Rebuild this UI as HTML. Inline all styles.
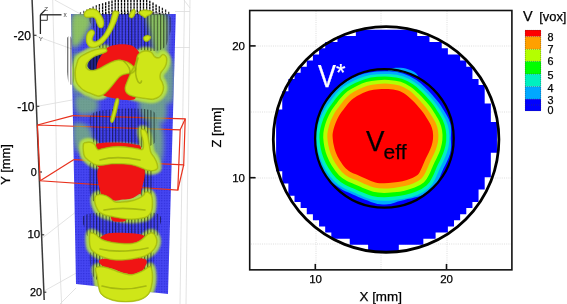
<!DOCTYPE html>
<html><head><meta charset="utf-8"><style>
html,body{margin:0;padding:0;background:#fff;}
body{width:567px;height:304px;position:relative;overflow:hidden;font-family:"Liberation Sans",sans-serif;}
.t{position:absolute;line-height:1;white-space:nowrap;-webkit-text-stroke:0.25px currentColor;}
#tx{position:absolute;left:0;top:0;width:567px;height:304px;will-change:transform;}
</style></head><body>
<svg width="567" height="304" style="position:absolute;left:0;top:0"><defs><pattern id="vf" width="3.2" height="3" patternUnits="userSpaceOnUse"><rect x="0" y="0" width="1.1" height="3" fill="#000"/></pattern><pattern id="dots" width="2.6" height="2.6" patternUnits="userSpaceOnUse"><rect width="2.6" height="2.6" fill="#4646f2"/><rect x="0" y="0" width="1.2" height="1.2" fill="#2e2ed8"/></pattern><clipPath id="pl"><polygon points="71,14 175.8,14 168,294 76,284"/></clipPath><filter id="bl" x="-20%" y="-20%" width="140%" height="140%"><feGaussianBlur stdDeviation="2.5"/></filter><filter id="bl2" x="-20%" y="-20%" width="140%" height="140%"><feGaussianBlur stdDeviation="1.3"/></filter><filter id="bl1" x="-20%" y="-20%" width="140%" height="140%"><feGaussianBlur stdDeviation="0.6"/></filter><radialGradient id="yg" cx="45%" cy="40%" r="70%"><stop offset="0" stop-color="#dcf020"/><stop offset="0.7" stop-color="#cbe514"/><stop offset="1" stop-color="#a8c010"/></radialGradient></defs><g stroke="#dcdcdc" stroke-width="0.8" fill="none"><polyline points="52.7,0 56,130 57,200 61.6,304"/><line x1="54.7" y1="0" x2="80" y2="13.8"/><line x1="36" y1="36" x2="72" y2="49"/><line x1="39" y1="106" x2="72" y2="100"/><line x1="42.8" y1="237.7" x2="75" y2="212.6"/><line x1="44.5" y1="290.8" x2="76" y2="273.2"/><line x1="184.5" y1="0" x2="180" y2="304"/><line x1="190" y1="0" x2="186" y2="304"/><line x1="184" y1="0" x2="190" y2="8"/><line x1="175" y1="11.5" x2="190" y2="11.5"/><line x1="175" y1="47.5" x2="190" y2="47.5"/><line x1="60" y1="304" x2="76" y2="288"/></g><line x1="32.1" y1="0" x2="44.2" y2="300" stroke="#3a3a3a" stroke-width="1.5"/><g stroke="#3a3a3a" stroke-width="1.2"><line x1="33.5" y1="35.3" x2="36.5" y2="35.3"/><line x1="36.5" y1="106.3" x2="39.3" y2="106.3"/><line x1="39.2" y1="172" x2="42" y2="172"/><line x1="41.5" y1="234.8" x2="44.2" y2="234.8"/><line x1="43.8" y1="292.2" x2="46.3" y2="292.2"/></g><polygon points="71,14 175.8,14 168,294 76,284" fill="url(#dots)"/><g stroke="#e8301c" stroke-width="1.2" fill="none"><polyline points="72.9,115.7 185.2,118.9 183.7,164.9 74,159.6"/><polyline points="37.4,125 180.2,129.8 177.8,190.1 40.2,180.8 37.4,125"/><line x1="37.4" y1="125" x2="72.9" y2="115.7"/><line x1="180.2" y1="129.8" x2="185.2" y2="118.9"/><line x1="177.8" y1="190.1" x2="183.7" y2="164.9"/><line x1="40.2" y1="180.8" x2="74" y2="159.6"/></g><g clip-path="url(#pl)"><g filter="url(#bl)" fill="#86d060" opacity="0.65"><path d="M72.0 56.0C73.2 50.0 78.7 50.7 80.0 56.0C81.3 61.3 81.2 82.0 80.0 88.0C78.8 94.0 74.3 97.3 73.0 92.0C71.7 86.7 70.8 62.0 72.0 56.0Z"/><path d="M162.0 62.0C163.8 56.0 171.2 55.7 173.0 62.0C174.8 68.3 174.8 94.0 173.0 100.0C171.2 106.0 163.8 104.3 162.0 98.0C160.2 91.7 160.2 68.0 162.0 62.0Z"/><path d="M76.0 96.0C79.0 93.3 92.7 95.3 96.0 98.0C99.3 100.7 99.0 109.3 96.0 112.0C93.0 114.7 81.3 116.7 78.0 114.0C74.7 111.3 73.0 98.7 76.0 96.0Z"/><path d="M140.0 98.0C143.3 94.7 160.0 96.0 164.0 100.0C168.0 104.0 167.3 118.7 164.0 122.0C160.7 125.3 148.0 124.0 144.0 120.0C140.0 116.0 136.7 101.3 140.0 98.0Z"/><path d="M74.0 124.0C76.3 120.3 87.0 123.7 90.0 128.0C93.0 132.3 94.3 146.3 92.0 150.0C89.7 153.7 79.0 154.3 76.0 150.0C73.0 145.7 71.7 127.7 74.0 124.0Z"/><path d="M148.0 126.0C150.0 120.7 159.7 122.3 162.0 128.0C164.3 133.7 164.0 154.7 162.0 160.0C160.0 165.3 152.3 165.7 150.0 160.0C147.7 154.3 146.0 131.3 148.0 126.0Z"/></g><g filter="url(#bl)" fill="#9ee040" opacity="0.8"><path d="M72.0 15.0C74.7 9.8 84.8 13.5 88.0 15.0C91.2 16.5 91.3 20.8 91.0 24.0C90.7 27.2 87.8 30.7 86.0 34.0C84.2 37.3 82.3 42.0 80.0 44.0C77.7 46.0 73.3 50.8 72.0 46.0C70.7 41.2 69.3 20.2 72.0 15.0Z"/><path d="M147.0 14.0C149.7 10.7 162.5 9.7 166.0 14.0C169.5 18.3 168.2 32.0 168.0 40.0C167.8 48.0 167.0 59.0 165.0 62.0C163.0 65.0 158.5 62.7 156.0 58.0C153.5 53.3 151.5 41.3 150.0 34.0C148.5 26.7 144.3 17.3 147.0 14.0Z"/></g><g filter="url(#bl2)" fill="none" stroke="#bce83c" stroke-width="7.5" opacity="0.9"><path d="M74.9 71.6C75.0 68.8 75.6 67.3 76.2 65.0C76.9 62.7 77.3 59.9 78.8 58.0C80.2 56.1 82.3 55.2 85.0 53.8C87.7 52.3 91.7 50.4 95.0 49.5C98.3 48.6 103.0 48.1 105.0 48.2C107.0 48.4 107.0 49.8 107.2 50.5C107.4 51.2 107.2 51.5 106.0 52.2C104.8 52.9 101.9 53.8 100.0 54.5C98.1 55.2 96.2 55.6 94.5 56.6C92.8 57.6 90.9 59.0 89.5 60.5C88.1 62.0 86.5 64.0 86.3 65.5C86.0 67.0 87.0 68.4 88.0 69.2C89.0 70.0 90.8 70.3 92.5 70.2C94.2 70.1 96.2 69.6 98.5 68.6C100.8 67.6 104.2 65.4 106.5 64.2C108.8 63.0 110.4 62.1 112.4 61.4C114.4 60.7 116.4 59.9 118.4 59.8C120.4 59.7 122.5 60.3 124.3 60.8C126.1 61.3 127.7 61.8 129.2 62.7C130.7 63.6 132.4 64.9 133.5 66.0C134.6 67.1 135.7 68.4 135.5 69.5C135.3 70.6 133.6 71.8 132.5 72.5C131.4 73.2 130.6 73.2 129.2 73.6C127.8 73.9 125.8 74.1 124.3 74.6C122.8 75.1 121.4 75.7 120.3 76.5C119.2 77.3 118.6 78.2 117.4 79.5C116.2 80.8 115.1 82.4 113.4 84.4C111.8 86.4 109.3 89.5 107.5 91.3C105.7 93.1 104.2 94.5 102.6 95.3C100.9 96.1 99.8 96.6 97.6 96.3C95.4 96.0 91.8 94.1 89.7 93.3C87.6 92.5 86.4 92.3 84.8 91.3C83.2 90.3 81.4 89.0 79.9 87.4C78.4 85.8 76.7 84.1 75.9 81.5C75.1 78.9 74.8 74.3 74.9 71.6Z"/><path d="M137.5 55.0C138.4 53.4 140.2 52.2 141.7 51.5C143.2 50.8 144.9 50.5 146.5 50.6C148.1 50.7 150.1 51.0 151.5 52.0C152.9 53.0 153.8 55.6 155.0 56.5C156.2 57.4 157.8 57.8 159.0 57.5C160.2 57.2 161.0 54.9 162.0 54.5C163.0 54.1 164.2 54.3 165.0 55.0C165.8 55.7 166.8 57.0 167.0 58.5C167.2 60.0 166.9 62.3 166.5 64.0C166.1 65.7 165.3 67.0 164.4 68.5C163.5 70.0 161.7 71.4 161.0 73.0C160.3 74.6 160.2 76.5 160.4 78.0C160.6 79.5 161.8 80.3 162.4 82.0C163.0 83.7 163.9 86.0 163.8 88.0C163.7 90.0 162.9 92.4 162.0 94.0C161.1 95.6 160.1 96.6 158.5 97.5C156.9 98.4 154.7 99.4 152.5 99.6C150.3 99.8 148.1 99.1 145.6 98.8C143.1 98.5 140.3 98.1 137.7 97.6C135.1 97.0 131.8 96.4 129.8 95.5C127.8 94.6 126.7 93.6 125.9 92.3C125.1 91.0 124.7 89.2 124.9 87.4C125.1 85.6 126.2 83.3 126.9 81.5C127.6 79.7 128.2 78.1 128.9 76.5C129.6 74.9 130.2 73.6 131.0 72.0C131.8 70.4 133.2 68.8 134.0 67.0C134.8 65.2 135.4 63.0 136.0 61.0C136.6 59.0 136.6 56.6 137.5 55.0Z"/><path d="M83.0 144.8C83.2 143.5 83.2 143.1 84.4 142.6C85.6 142.1 88.7 141.7 90.4 141.9C92.1 142.2 93.6 142.9 94.8 144.1C96.0 145.3 96.6 148.6 97.8 149.3C99.0 150.0 100.2 148.9 102.2 148.5C104.2 148.1 107.1 147.4 109.6 147.0C112.1 146.6 114.5 146.4 117.0 146.3C119.5 146.2 121.9 146.4 124.4 146.6C126.9 146.8 129.7 147.2 131.9 147.5C134.1 147.8 136.0 148.2 137.8 148.5C139.6 148.8 141.6 150.1 142.5 149.0C143.4 147.9 143.2 144.5 143.0 142.0C142.8 139.5 141.3 136.1 141.0 134.0C140.7 131.9 140.4 130.2 141.0 129.5C141.6 128.8 143.4 128.8 144.5 129.5C145.6 130.2 146.7 131.4 147.5 134.0C148.3 136.6 149.0 141.8 149.6 144.8C150.2 147.8 150.3 150.2 151.1 152.2C151.8 154.2 153.1 155.0 154.1 156.7C155.1 158.4 156.4 160.6 157.0 162.6C157.6 164.6 158.3 167.2 157.8 168.5C157.3 169.8 155.7 170.3 154.1 170.7C152.5 171.1 150.1 171.1 148.1 170.7C146.1 170.3 144.2 169.2 142.2 168.5C140.2 167.8 138.3 166.9 136.3 166.3C134.3 165.7 132.9 165.2 130.4 164.8C127.9 164.4 124.5 164.2 121.5 164.1C118.5 164.0 115.1 164.0 112.6 164.1C110.1 164.2 108.7 164.6 106.7 164.8C104.7 165.1 102.7 165.6 100.7 165.6C98.7 165.6 96.8 165.6 94.8 164.8C92.8 164.1 90.6 162.4 88.9 161.1C87.2 159.8 85.4 158.4 84.4 156.7C83.4 155.0 83.2 152.7 83.0 150.7C82.8 148.7 82.8 146.2 83.0 144.8Z"/><path d="M95.0 196.4C95.8 195.2 97.5 194.4 99.3 194.2C101.1 194.0 103.8 194.6 105.7 195.3C107.7 196.0 109.4 197.4 111.0 198.5C112.6 199.6 113.3 201.2 115.3 201.7C117.3 202.2 120.1 201.9 122.8 201.7C125.5 201.5 128.8 201.1 131.3 200.6C133.8 200.1 135.8 199.4 137.8 198.5C139.8 197.6 141.9 196.4 143.1 195.3C144.3 194.2 144.3 192.6 145.2 192.1C146.1 191.6 147.3 191.6 148.4 192.1C149.5 192.6 151.0 193.5 151.7 195.3C152.4 197.1 152.7 200.1 152.7 202.8C152.7 205.5 152.6 209.0 151.7 211.3C150.8 213.6 149.4 215.4 147.4 216.7C145.4 217.9 142.6 218.3 139.9 218.8C137.2 219.3 134.2 219.5 131.3 219.5C128.5 219.5 125.7 219.2 122.8 218.8C119.9 218.4 117.0 217.8 114.2 217.3C111.4 216.8 108.2 216.4 105.7 215.6C103.2 214.8 100.9 213.8 99.3 212.4C97.7 211.0 96.8 208.9 96.0 207.1C95.2 205.3 94.7 203.5 94.5 201.7C94.3 199.9 94.2 197.7 95.0 196.4Z"/><path d="M90.4 232.8C91.5 232.2 93.6 233.0 95.6 234.1C97.5 235.2 99.5 238.0 102.1 239.3C104.7 240.6 108.0 241.2 111.2 241.9C114.5 242.6 118.1 243.0 121.6 243.2C125.1 243.4 129.0 243.6 132.0 243.2C135.0 242.8 137.2 242.1 139.8 240.6C142.4 239.1 145.4 235.4 147.6 234.1C149.8 232.8 151.3 232.2 152.8 232.8C154.3 233.5 156.0 236.1 156.7 238.0C157.3 239.9 157.3 242.3 156.7 244.5C156.0 246.7 154.8 249.1 152.8 251.0C150.9 252.9 148.0 254.9 145.0 256.2C142.0 257.5 137.8 258.1 134.6 258.8C131.3 259.5 129.0 259.9 125.5 260.1C122.0 260.3 117.5 260.5 113.8 260.1C110.1 259.7 106.4 258.6 103.4 257.5C100.4 256.4 97.8 255.1 95.6 253.6C93.4 252.1 91.5 251.0 90.4 248.4C89.3 245.8 89.1 240.6 89.1 238.0C89.1 235.4 89.3 233.5 90.4 232.8Z"/><path d="M95.6 267.9C96.7 266.2 100.4 266.3 103.4 266.6C106.4 266.9 111.2 268.8 113.8 269.7C116.4 270.6 117.0 271.1 119.0 271.8C121.0 272.5 123.3 273.2 125.5 273.6C127.7 274.0 129.4 274.8 132.0 274.4C134.6 274.0 138.3 272.6 141.1 271.3C143.9 270.0 147.2 267.2 148.9 266.6C150.6 266.0 150.8 266.2 151.5 267.9C152.2 269.6 152.8 273.8 152.8 277.0C152.8 280.2 152.2 284.6 151.5 287.4C150.8 290.2 150.4 291.9 148.9 293.9C147.4 295.8 145.2 297.8 142.4 299.1C139.6 300.4 135.9 301.3 132.0 301.7C128.1 302.1 122.9 302.1 119.0 301.7C115.1 301.3 111.6 300.4 108.6 299.1C105.6 297.8 102.5 296.1 100.8 293.9C99.1 291.7 98.8 288.9 98.2 286.1C97.6 283.3 97.3 280.0 96.9 277.0C96.5 274.0 94.5 269.6 95.6 267.9Z"/></g></g><g fill="url(#vf)" opacity="0.55"><path d="M94.0 14.0C106.0 11.3 153.7 9.7 166.0 14.0C178.3 18.3 169.0 34.0 168.0 40.0C167.0 46.0 164.7 48.3 160.0 50.0C155.3 51.7 146.7 50.8 140.0 50.0C133.3 49.2 126.7 45.3 120.0 45.0C113.3 44.7 104.3 50.5 100.0 48.0C95.7 45.5 95.0 35.7 94.0 30.0C93.0 24.3 82.0 16.7 94.0 14.0Z"/><path d="M95.0 112.0C104.7 108.3 139.8 107.3 150.0 110.0C160.2 112.7 156.0 122.0 156.0 128.0C156.0 134.0 159.3 143.0 150.0 146.0C140.7 149.0 109.7 148.3 100.0 146.0C90.3 143.7 92.8 137.7 92.0 132.0C91.2 126.3 85.3 115.7 95.0 112.0Z"/><path d="M88.0 214.0C99.5 211.2 143.3 210.3 155.0 213.0C166.7 215.7 158.8 225.8 158.0 230.0C157.2 234.2 160.5 236.7 150.0 238.0C139.5 239.3 105.7 239.3 95.0 238.0C84.3 236.7 87.2 234.0 86.0 230.0C84.8 226.0 76.5 216.8 88.0 214.0Z"/><path d="M89.0 165.0C90.7 159.5 99.0 159.5 101.0 165.0C103.0 170.5 102.7 192.5 101.0 198.0C99.3 203.5 93.0 203.5 91.0 198.0C89.0 192.5 87.3 170.5 89.0 165.0Z"/><path d="M140.0 168.0C141.8 163.8 150.0 165.5 152.0 170.0C154.0 174.5 153.8 190.8 152.0 195.0C150.2 199.2 143.0 199.5 141.0 195.0C139.0 190.5 138.2 172.2 140.0 168.0Z"/><path d="M90.0 253.0C91.5 249.7 100.0 251.8 102.0 256.0C104.0 260.2 103.5 274.7 102.0 278.0C100.5 281.3 95.0 280.2 93.0 276.0C91.0 271.8 88.5 256.3 90.0 253.0Z"/><path d="M139.0 255.0C141.0 252.0 150.8 249.5 153.0 252.0C155.2 254.5 154.0 267.0 152.0 270.0C150.0 273.0 143.2 272.5 141.0 270.0C138.8 267.5 137.0 258.0 139.0 255.0Z"/></g><g stroke-width="1.3" stroke-dasharray="2.6 0.5"><line x1="80.5" y1="12.1" x2="80.5" y2="14.5" stroke="rgb(110,110,110)"/><line x1="83.7" y1="10.8" x2="83.7" y2="14.5" stroke="rgb(101,101,101)"/><line x1="86.8" y1="9.4" x2="86.8" y2="14.5" stroke="rgb(85,85,85)"/><line x1="90.0" y1="8.0" x2="90.0" y2="14.5" stroke="rgb(69,69,69)"/><line x1="93.1" y1="6.5" x2="93.1" y2="14.5" stroke="rgb(54,54,54)"/><line x1="96.3" y1="5.2" x2="96.3" y2="14.5" stroke="rgb(38,38,38)"/><line x1="99.4" y1="4.1" x2="99.4" y2="14.5" stroke="rgb(22,22,22)"/><line x1="102.6" y1="3.2" x2="102.6" y2="14.5" stroke="rgb(6,6,6)"/><line x1="105.7" y1="2.3" x2="105.7" y2="14.5" stroke="rgb(0,0,0)"/><line x1="108.9" y1="1.3" x2="108.9" y2="14.5" stroke="rgb(0,0,0)"/><line x1="112.0" y1="0.6" x2="112.0" y2="14.5" stroke="rgb(0,0,0)"/><line x1="115.2" y1="0.0" x2="115.2" y2="14.5" stroke="rgb(0,0,0)"/><line x1="118.3" y1="0.0" x2="118.3" y2="14.5" stroke="rgb(0,0,0)"/><line x1="121.5" y1="0.0" x2="121.5" y2="14.5" stroke="rgb(0,0,0)"/><line x1="124.6" y1="0.0" x2="124.6" y2="14.5" stroke="rgb(0,0,0)"/><line x1="127.8" y1="0.0" x2="127.8" y2="14.5" stroke="rgb(0,0,0)"/><line x1="130.9" y1="0.0" x2="130.9" y2="14.5" stroke="rgb(0,0,0)"/><line x1="134.1" y1="0.0" x2="134.1" y2="14.5" stroke="rgb(0,0,0)"/><line x1="137.2" y1="0.0" x2="137.2" y2="14.5" stroke="rgb(0,0,0)"/><line x1="140.4" y1="0.0" x2="140.4" y2="14.5" stroke="rgb(0,0,0)"/><line x1="143.5" y1="0.0" x2="143.5" y2="14.5" stroke="rgb(0,0,0)"/><line x1="146.7" y1="0.0" x2="146.7" y2="14.5" stroke="rgb(0,0,0)"/><line x1="149.8" y1="0.7" x2="149.8" y2="14.5" stroke="rgb(0,0,0)"/><line x1="153.0" y1="2.5" x2="153.0" y2="14.5" stroke="rgb(0,0,0)"/><line x1="156.1" y1="4.5" x2="156.1" y2="14.5" stroke="rgb(0,0,0)"/><line x1="159.3" y1="6.2" x2="159.3" y2="14.5" stroke="rgb(15,15,15)"/><line x1="162.4" y1="7.7" x2="162.4" y2="14.5" stroke="rgb(31,31,31)"/><line x1="165.6" y1="9.5" x2="165.6" y2="14.5" stroke="rgb(47,47,47)"/><line x1="168.7" y1="11.8" x2="168.7" y2="14.5" stroke="rgb(63,63,63)"/></g><g fill="url(#vf)" opacity="0.6"><path d="M66.0 42.0C66.7 35.3 70.7 33.7 72.0 40.0C73.3 46.3 74.7 73.3 74.0 80.0C73.3 86.7 69.3 86.3 68.0 80.0C66.7 73.7 65.3 48.7 66.0 42.0Z"/></g><path d="M87.5 65 C88 60 93 56.5 100 54 C104 53 108 53 109 55.5 L104 66 C100 69 96 70.5 91 70 C88.5 69 87.3 67.5 87.5 65Z" fill="#23238a"/><path d="M87.5 65 C88 60 93 56.5 100 54 C104 53 108 53 109 55.5 L104 66 C100 69 96 70.5 91 70 C88.5 69 87.3 67.5 87.5 65Z" fill="url(#vf)" opacity="0.6"/><g fill="#f01414"><path d="M107.5 47.5C110.0 46.0 113.8 44.9 117.5 44.5C121.2 44.1 126.7 44.1 130.0 45.0C133.3 45.9 135.6 47.9 137.5 50.0C139.4 52.1 140.8 54.6 141.2 57.5C141.7 60.4 140.6 64.2 140.0 67.5C139.4 70.8 138.1 73.8 137.5 77.5C136.9 81.2 136.7 86.5 136.2 90.0C135.8 93.5 136.9 97.1 135.0 98.8C133.1 100.4 129.2 100.2 125.0 100.0C120.8 99.8 114.2 98.5 110.0 97.5C105.8 96.5 102.3 95.4 100.0 93.8C97.7 92.1 96.9 91.0 96.2 87.5C95.6 84.0 96.0 76.7 96.2 72.5C96.5 68.3 96.5 65.6 97.5 62.5C98.5 59.4 100.8 56.2 102.5 53.8C104.2 51.2 105.0 49.0 107.5 47.5Z"/><path d="M96.3 144.1C96.8 143.0 97.1 143.6 99.3 143.3C101.5 143.1 105.4 142.7 109.6 142.6C113.8 142.5 120.0 142.6 124.4 143.0C128.9 143.4 133.5 144.0 136.3 144.8C139.1 145.6 140.2 144.1 141.0 148.0C141.8 151.9 147.8 164.7 141.0 168.0C134.2 171.3 107.5 171.0 100.0 168.0C92.5 165.0 96.6 154.0 96.0 150.0C95.4 146.0 95.8 145.2 96.3 144.1Z"/><path d="M100.3 166.0C107.1 161.1 135.2 161.7 142.0 166.0C148.8 170.3 141.5 187.4 141.0 192.1C140.5 196.8 140.4 193.1 138.8 194.2C137.2 195.3 134.0 197.6 131.3 198.5C128.6 199.4 125.7 199.2 122.8 199.6C119.9 199.9 116.7 201.0 114.2 200.6C111.7 200.2 109.9 198.3 107.8 197.4C105.7 196.5 102.7 200.5 101.4 195.3C100.2 190.1 93.5 170.9 100.3 166.0Z"/><path d="M112.0 214.0C114.2 212.8 123.8 212.8 126.0 214.0C128.2 215.2 127.2 219.8 125.0 221.0C122.8 222.2 115.2 222.2 113.0 221.0C110.8 219.8 109.8 215.2 112.0 214.0Z"/><path d="M99.5 240.0C98.8 238.3 102.8 235.3 106.0 234.1C109.2 232.9 114.7 232.9 119.0 232.8C123.3 232.7 127.9 232.9 132.0 233.3C136.1 233.7 140.9 234.3 143.7 235.4C146.5 236.5 149.5 238.6 148.9 240.0C148.3 241.4 146.5 243.3 140.0 244.0C133.5 244.7 116.8 244.7 110.0 244.0C103.2 243.3 100.2 241.7 99.5 240.0Z"/><path d="M102.0 259.0C108.7 257.7 136.8 257.1 143.7 258.8C150.6 260.5 144.3 267.0 143.7 269.2C143.0 271.4 141.8 270.9 139.8 271.8C137.9 272.7 134.6 274.2 132.0 274.4C129.4 274.6 126.4 273.6 124.2 273.1C122.0 272.6 120.7 272.0 119.0 271.3C117.3 270.6 116.4 270.0 113.8 269.2C111.2 268.4 105.4 268.3 103.4 266.6C101.4 264.9 95.3 260.3 102.0 259.0Z"/></g><clipPath id="yc"><path d="M84.0 13.5C84.3 12.4 85.1 11.0 86.5 10.2C87.9 9.4 90.8 8.8 92.5 8.8C94.2 8.8 95.7 9.1 97.0 10.0C98.3 10.9 99.5 12.6 100.5 14.0C101.5 15.4 102.4 16.9 103.0 18.5C103.6 20.1 104.1 22.0 104.0 23.5C103.9 25.0 103.3 26.8 102.5 27.5C101.7 28.2 100.0 28.2 99.0 27.5C98.0 26.8 97.4 24.8 96.8 23.5C96.2 22.2 96.0 20.5 95.5 19.5C95.0 18.5 94.4 17.8 93.5 17.5C92.6 17.2 91.2 17.5 90.0 17.5C88.8 17.5 87.4 17.7 86.5 17.5C85.6 17.3 84.9 17.2 84.5 16.5C84.1 15.8 83.7 14.6 84.0 13.5Z"/><path d="M113.6 11.0C114.6 10.6 117.6 11.0 118.4 11.6C119.2 12.2 118.8 13.2 118.6 14.3C118.4 15.5 117.9 16.9 117.4 18.5C116.9 20.1 116.3 21.7 115.4 23.8C114.5 25.9 113.0 29.0 111.8 31.2C110.6 33.4 109.5 35.0 108.3 36.8C107.0 38.5 105.6 40.3 104.3 41.7C103.0 43.1 101.6 44.3 100.2 45.2C98.8 46.1 97.3 46.9 95.9 47.3C94.5 47.7 93.3 48.0 92.0 47.8C90.7 47.6 89.3 47.0 88.3 45.9C87.3 44.8 86.5 42.9 86.2 41.4C85.9 39.9 86.0 38.2 86.2 36.8C86.4 35.3 86.8 33.9 87.6 32.7C88.4 31.5 90.0 30.0 91.1 29.7C92.1 29.4 93.3 30.2 93.9 30.8C94.5 31.4 94.6 32.5 94.5 33.5C94.4 34.5 93.4 35.8 93.1 36.8C92.8 37.8 92.3 39.0 92.5 39.8C92.7 40.6 93.5 41.3 94.2 41.5C95.0 41.7 96.0 41.4 97.0 40.9C98.0 40.4 98.9 39.5 100.1 38.4C101.2 37.3 102.7 36.0 103.9 34.4C105.1 32.8 106.1 30.7 107.1 28.8C108.1 26.9 109.1 24.6 109.8 22.9C110.5 21.1 110.7 19.8 111.1 18.3C111.5 16.8 112.0 15.1 112.4 13.9C112.8 12.7 112.6 11.4 113.6 11.0Z"/><path d="M129.0 16.3C128.8 15.2 130.0 12.9 130.8 11.7C131.6 10.5 132.8 9.2 133.6 9.0C134.4 8.8 135.2 9.7 135.4 10.8C135.6 11.9 135.1 14.2 134.5 15.4C133.9 16.6 132.6 18.0 131.7 18.1C130.8 18.2 129.2 17.4 129.0 16.3Z"/><path d="M139.0 11.7C139.6 10.9 141.7 10.1 143.5 9.9C145.3 9.7 148.3 10.2 149.8 10.5C151.3 10.8 152.3 11.0 152.5 11.7C152.7 12.4 151.6 13.7 150.7 14.5C149.8 15.3 148.0 15.7 147.1 16.3C146.2 16.9 146.1 18.1 145.3 18.1C144.6 18.1 143.5 16.9 142.6 16.3C141.7 15.7 140.5 15.3 139.9 14.5C139.3 13.7 138.4 12.5 139.0 11.7Z"/><path d="M143.5 37.0C144.0 36.2 145.8 35.3 147.0 35.2C148.2 35.1 150.3 35.7 150.7 36.5C151.1 37.3 150.3 39.1 149.5 40.0C148.7 40.9 146.9 41.6 146.0 41.6C145.1 41.6 144.2 40.8 143.8 40.0C143.4 39.2 143.0 37.8 143.5 37.0Z"/><path d="M74.9 71.6C75.0 68.8 75.6 67.3 76.2 65.0C76.9 62.7 77.3 59.9 78.8 58.0C80.2 56.1 82.3 55.2 85.0 53.8C87.7 52.3 91.7 50.4 95.0 49.5C98.3 48.6 103.0 48.1 105.0 48.2C107.0 48.4 107.0 49.8 107.2 50.5C107.4 51.2 107.2 51.5 106.0 52.2C104.8 52.9 101.9 53.8 100.0 54.5C98.1 55.2 96.2 55.6 94.5 56.6C92.8 57.6 90.9 59.0 89.5 60.5C88.1 62.0 86.5 64.0 86.3 65.5C86.0 67.0 87.0 68.4 88.0 69.2C89.0 70.0 90.8 70.3 92.5 70.2C94.2 70.1 96.2 69.6 98.5 68.6C100.8 67.6 104.2 65.4 106.5 64.2C108.8 63.0 110.4 62.1 112.4 61.4C114.4 60.7 116.4 59.9 118.4 59.8C120.4 59.7 122.5 60.3 124.3 60.8C126.1 61.3 127.7 61.8 129.2 62.7C130.7 63.6 132.4 64.9 133.5 66.0C134.6 67.1 135.7 68.4 135.5 69.5C135.3 70.6 133.6 71.8 132.5 72.5C131.4 73.2 130.6 73.2 129.2 73.6C127.8 73.9 125.8 74.1 124.3 74.6C122.8 75.1 121.4 75.7 120.3 76.5C119.2 77.3 118.6 78.2 117.4 79.5C116.2 80.8 115.1 82.4 113.4 84.4C111.8 86.4 109.3 89.5 107.5 91.3C105.7 93.1 104.2 94.5 102.6 95.3C100.9 96.1 99.8 96.6 97.6 96.3C95.4 96.0 91.8 94.1 89.7 93.3C87.6 92.5 86.4 92.3 84.8 91.3C83.2 90.3 81.4 89.0 79.9 87.4C78.4 85.8 76.7 84.1 75.9 81.5C75.1 78.9 74.8 74.3 74.9 71.6Z"/><path d="M137.5 55.0C138.4 53.4 140.2 52.2 141.7 51.5C143.2 50.8 144.9 50.5 146.5 50.6C148.1 50.7 150.1 51.0 151.5 52.0C152.9 53.0 153.8 55.6 155.0 56.5C156.2 57.4 157.8 57.8 159.0 57.5C160.2 57.2 161.0 54.9 162.0 54.5C163.0 54.1 164.2 54.3 165.0 55.0C165.8 55.7 166.8 57.0 167.0 58.5C167.2 60.0 166.9 62.3 166.5 64.0C166.1 65.7 165.3 67.0 164.4 68.5C163.5 70.0 161.7 71.4 161.0 73.0C160.3 74.6 160.2 76.5 160.4 78.0C160.6 79.5 161.8 80.3 162.4 82.0C163.0 83.7 163.9 86.0 163.8 88.0C163.7 90.0 162.9 92.4 162.0 94.0C161.1 95.6 160.1 96.6 158.5 97.5C156.9 98.4 154.7 99.4 152.5 99.6C150.3 99.8 148.1 99.1 145.6 98.8C143.1 98.5 140.3 98.1 137.7 97.6C135.1 97.0 131.8 96.4 129.8 95.5C127.8 94.6 126.7 93.6 125.9 92.3C125.1 91.0 124.7 89.2 124.9 87.4C125.1 85.6 126.2 83.3 126.9 81.5C127.6 79.7 128.2 78.1 128.9 76.5C129.6 74.9 130.2 73.6 131.0 72.0C131.8 70.4 133.2 68.8 134.0 67.0C134.8 65.2 135.4 63.0 136.0 61.0C136.6 59.0 136.6 56.6 137.5 55.0Z"/><path d="M116.0 99.0C117.0 97.3 118.8 98.2 119.0 100.0C119.2 101.8 117.9 106.4 117.0 110.0C116.1 113.6 114.6 119.7 113.5 121.5C112.4 123.3 110.6 122.9 110.5 121.0C110.4 119.1 112.1 113.7 113.0 110.0C113.9 106.3 115.0 100.7 116.0 99.0Z"/><path d="M83.0 144.8C83.2 143.5 83.2 143.1 84.4 142.6C85.6 142.1 88.7 141.7 90.4 141.9C92.1 142.2 93.6 142.9 94.8 144.1C96.0 145.3 96.6 148.6 97.8 149.3C99.0 150.0 100.2 148.9 102.2 148.5C104.2 148.1 107.1 147.4 109.6 147.0C112.1 146.6 114.5 146.4 117.0 146.3C119.5 146.2 121.9 146.4 124.4 146.6C126.9 146.8 129.7 147.2 131.9 147.5C134.1 147.8 136.0 148.2 137.8 148.5C139.6 148.8 141.6 150.1 142.5 149.0C143.4 147.9 143.2 144.5 143.0 142.0C142.8 139.5 141.3 136.1 141.0 134.0C140.7 131.9 140.4 130.2 141.0 129.5C141.6 128.8 143.4 128.8 144.5 129.5C145.6 130.2 146.7 131.4 147.5 134.0C148.3 136.6 149.0 141.8 149.6 144.8C150.2 147.8 150.3 150.2 151.1 152.2C151.8 154.2 153.1 155.0 154.1 156.7C155.1 158.4 156.4 160.6 157.0 162.6C157.6 164.6 158.3 167.2 157.8 168.5C157.3 169.8 155.7 170.3 154.1 170.7C152.5 171.1 150.1 171.1 148.1 170.7C146.1 170.3 144.2 169.2 142.2 168.5C140.2 167.8 138.3 166.9 136.3 166.3C134.3 165.7 132.9 165.2 130.4 164.8C127.9 164.4 124.5 164.2 121.5 164.1C118.5 164.0 115.1 164.0 112.6 164.1C110.1 164.2 108.7 164.6 106.7 164.8C104.7 165.1 102.7 165.6 100.7 165.6C98.7 165.6 96.8 165.6 94.8 164.8C92.8 164.1 90.6 162.4 88.9 161.1C87.2 159.8 85.4 158.4 84.4 156.7C83.4 155.0 83.2 152.7 83.0 150.7C82.8 148.7 82.8 146.2 83.0 144.8Z"/><path d="M95.0 196.4C95.8 195.2 97.5 194.4 99.3 194.2C101.1 194.0 103.8 194.6 105.7 195.3C107.7 196.0 109.4 197.4 111.0 198.5C112.6 199.6 113.3 201.2 115.3 201.7C117.3 202.2 120.1 201.9 122.8 201.7C125.5 201.5 128.8 201.1 131.3 200.6C133.8 200.1 135.8 199.4 137.8 198.5C139.8 197.6 141.9 196.4 143.1 195.3C144.3 194.2 144.3 192.6 145.2 192.1C146.1 191.6 147.3 191.6 148.4 192.1C149.5 192.6 151.0 193.5 151.7 195.3C152.4 197.1 152.7 200.1 152.7 202.8C152.7 205.5 152.6 209.0 151.7 211.3C150.8 213.6 149.4 215.4 147.4 216.7C145.4 217.9 142.6 218.3 139.9 218.8C137.2 219.3 134.2 219.5 131.3 219.5C128.5 219.5 125.7 219.2 122.8 218.8C119.9 218.4 117.0 217.8 114.2 217.3C111.4 216.8 108.2 216.4 105.7 215.6C103.2 214.8 100.9 213.8 99.3 212.4C97.7 211.0 96.8 208.9 96.0 207.1C95.2 205.3 94.7 203.5 94.5 201.7C94.3 199.9 94.2 197.7 95.0 196.4Z"/><path d="M90.4 232.8C91.5 232.2 93.6 233.0 95.6 234.1C97.5 235.2 99.5 238.0 102.1 239.3C104.7 240.6 108.0 241.2 111.2 241.9C114.5 242.6 118.1 243.0 121.6 243.2C125.1 243.4 129.0 243.6 132.0 243.2C135.0 242.8 137.2 242.1 139.8 240.6C142.4 239.1 145.4 235.4 147.6 234.1C149.8 232.8 151.3 232.2 152.8 232.8C154.3 233.5 156.0 236.1 156.7 238.0C157.3 239.9 157.3 242.3 156.7 244.5C156.0 246.7 154.8 249.1 152.8 251.0C150.9 252.9 148.0 254.9 145.0 256.2C142.0 257.5 137.8 258.1 134.6 258.8C131.3 259.5 129.0 259.9 125.5 260.1C122.0 260.3 117.5 260.5 113.8 260.1C110.1 259.7 106.4 258.6 103.4 257.5C100.4 256.4 97.8 255.1 95.6 253.6C93.4 252.1 91.5 251.0 90.4 248.4C89.3 245.8 89.1 240.6 89.1 238.0C89.1 235.4 89.3 233.5 90.4 232.8Z"/><path d="M95.6 267.9C96.7 266.2 100.4 266.3 103.4 266.6C106.4 266.9 111.2 268.8 113.8 269.7C116.4 270.6 117.0 271.1 119.0 271.8C121.0 272.5 123.3 273.2 125.5 273.6C127.7 274.0 129.4 274.8 132.0 274.4C134.6 274.0 138.3 272.6 141.1 271.3C143.9 270.0 147.2 267.2 148.9 266.6C150.6 266.0 150.8 266.2 151.5 267.9C152.2 269.6 152.8 273.8 152.8 277.0C152.8 280.2 152.2 284.6 151.5 287.4C150.8 290.2 150.4 291.9 148.9 293.9C147.4 295.8 145.2 297.8 142.4 299.1C139.6 300.4 135.9 301.3 132.0 301.7C128.1 302.1 122.9 302.1 119.0 301.7C115.1 301.3 111.6 300.4 108.6 299.1C105.6 297.8 102.5 296.1 100.8 293.9C99.1 291.7 98.8 288.9 98.2 286.1C97.6 283.3 97.3 280.0 96.9 277.0C96.5 274.0 94.5 269.6 95.6 267.9Z"/></clipPath><g fill="#cfe618"><path d="M84.0 13.5C84.3 12.4 85.1 11.0 86.5 10.2C87.9 9.4 90.8 8.8 92.5 8.8C94.2 8.8 95.7 9.1 97.0 10.0C98.3 10.9 99.5 12.6 100.5 14.0C101.5 15.4 102.4 16.9 103.0 18.5C103.6 20.1 104.1 22.0 104.0 23.5C103.9 25.0 103.3 26.8 102.5 27.5C101.7 28.2 100.0 28.2 99.0 27.5C98.0 26.8 97.4 24.8 96.8 23.5C96.2 22.2 96.0 20.5 95.5 19.5C95.0 18.5 94.4 17.8 93.5 17.5C92.6 17.2 91.2 17.5 90.0 17.5C88.8 17.5 87.4 17.7 86.5 17.5C85.6 17.3 84.9 17.2 84.5 16.5C84.1 15.8 83.7 14.6 84.0 13.5Z"/><path d="M113.6 11.0C114.6 10.6 117.6 11.0 118.4 11.6C119.2 12.2 118.8 13.2 118.6 14.3C118.4 15.5 117.9 16.9 117.4 18.5C116.9 20.1 116.3 21.7 115.4 23.8C114.5 25.9 113.0 29.0 111.8 31.2C110.6 33.4 109.5 35.0 108.3 36.8C107.0 38.5 105.6 40.3 104.3 41.7C103.0 43.1 101.6 44.3 100.2 45.2C98.8 46.1 97.3 46.9 95.9 47.3C94.5 47.7 93.3 48.0 92.0 47.8C90.7 47.6 89.3 47.0 88.3 45.9C87.3 44.8 86.5 42.9 86.2 41.4C85.9 39.9 86.0 38.2 86.2 36.8C86.4 35.3 86.8 33.9 87.6 32.7C88.4 31.5 90.0 30.0 91.1 29.7C92.1 29.4 93.3 30.2 93.9 30.8C94.5 31.4 94.6 32.5 94.5 33.5C94.4 34.5 93.4 35.8 93.1 36.8C92.8 37.8 92.3 39.0 92.5 39.8C92.7 40.6 93.5 41.3 94.2 41.5C95.0 41.7 96.0 41.4 97.0 40.9C98.0 40.4 98.9 39.5 100.1 38.4C101.2 37.3 102.7 36.0 103.9 34.4C105.1 32.8 106.1 30.7 107.1 28.8C108.1 26.9 109.1 24.6 109.8 22.9C110.5 21.1 110.7 19.8 111.1 18.3C111.5 16.8 112.0 15.1 112.4 13.9C112.8 12.7 112.6 11.4 113.6 11.0Z"/><path d="M129.0 16.3C128.8 15.2 130.0 12.9 130.8 11.7C131.6 10.5 132.8 9.2 133.6 9.0C134.4 8.8 135.2 9.7 135.4 10.8C135.6 11.9 135.1 14.2 134.5 15.4C133.9 16.6 132.6 18.0 131.7 18.1C130.8 18.2 129.2 17.4 129.0 16.3Z"/><path d="M139.0 11.7C139.6 10.9 141.7 10.1 143.5 9.9C145.3 9.7 148.3 10.2 149.8 10.5C151.3 10.8 152.3 11.0 152.5 11.7C152.7 12.4 151.6 13.7 150.7 14.5C149.8 15.3 148.0 15.7 147.1 16.3C146.2 16.9 146.1 18.1 145.3 18.1C144.6 18.1 143.5 16.9 142.6 16.3C141.7 15.7 140.5 15.3 139.9 14.5C139.3 13.7 138.4 12.5 139.0 11.7Z"/><path d="M143.5 37.0C144.0 36.2 145.8 35.3 147.0 35.2C148.2 35.1 150.3 35.7 150.7 36.5C151.1 37.3 150.3 39.1 149.5 40.0C148.7 40.9 146.9 41.6 146.0 41.6C145.1 41.6 144.2 40.8 143.8 40.0C143.4 39.2 143.0 37.8 143.5 37.0Z"/><path d="M74.9 71.6C75.0 68.8 75.6 67.3 76.2 65.0C76.9 62.7 77.3 59.9 78.8 58.0C80.2 56.1 82.3 55.2 85.0 53.8C87.7 52.3 91.7 50.4 95.0 49.5C98.3 48.6 103.0 48.1 105.0 48.2C107.0 48.4 107.0 49.8 107.2 50.5C107.4 51.2 107.2 51.5 106.0 52.2C104.8 52.9 101.9 53.8 100.0 54.5C98.1 55.2 96.2 55.6 94.5 56.6C92.8 57.6 90.9 59.0 89.5 60.5C88.1 62.0 86.5 64.0 86.3 65.5C86.0 67.0 87.0 68.4 88.0 69.2C89.0 70.0 90.8 70.3 92.5 70.2C94.2 70.1 96.2 69.6 98.5 68.6C100.8 67.6 104.2 65.4 106.5 64.2C108.8 63.0 110.4 62.1 112.4 61.4C114.4 60.7 116.4 59.9 118.4 59.8C120.4 59.7 122.5 60.3 124.3 60.8C126.1 61.3 127.7 61.8 129.2 62.7C130.7 63.6 132.4 64.9 133.5 66.0C134.6 67.1 135.7 68.4 135.5 69.5C135.3 70.6 133.6 71.8 132.5 72.5C131.4 73.2 130.6 73.2 129.2 73.6C127.8 73.9 125.8 74.1 124.3 74.6C122.8 75.1 121.4 75.7 120.3 76.5C119.2 77.3 118.6 78.2 117.4 79.5C116.2 80.8 115.1 82.4 113.4 84.4C111.8 86.4 109.3 89.5 107.5 91.3C105.7 93.1 104.2 94.5 102.6 95.3C100.9 96.1 99.8 96.6 97.6 96.3C95.4 96.0 91.8 94.1 89.7 93.3C87.6 92.5 86.4 92.3 84.8 91.3C83.2 90.3 81.4 89.0 79.9 87.4C78.4 85.8 76.7 84.1 75.9 81.5C75.1 78.9 74.8 74.3 74.9 71.6Z"/><path d="M137.5 55.0C138.4 53.4 140.2 52.2 141.7 51.5C143.2 50.8 144.9 50.5 146.5 50.6C148.1 50.7 150.1 51.0 151.5 52.0C152.9 53.0 153.8 55.6 155.0 56.5C156.2 57.4 157.8 57.8 159.0 57.5C160.2 57.2 161.0 54.9 162.0 54.5C163.0 54.1 164.2 54.3 165.0 55.0C165.8 55.7 166.8 57.0 167.0 58.5C167.2 60.0 166.9 62.3 166.5 64.0C166.1 65.7 165.3 67.0 164.4 68.5C163.5 70.0 161.7 71.4 161.0 73.0C160.3 74.6 160.2 76.5 160.4 78.0C160.6 79.5 161.8 80.3 162.4 82.0C163.0 83.7 163.9 86.0 163.8 88.0C163.7 90.0 162.9 92.4 162.0 94.0C161.1 95.6 160.1 96.6 158.5 97.5C156.9 98.4 154.7 99.4 152.5 99.6C150.3 99.8 148.1 99.1 145.6 98.8C143.1 98.5 140.3 98.1 137.7 97.6C135.1 97.0 131.8 96.4 129.8 95.5C127.8 94.6 126.7 93.6 125.9 92.3C125.1 91.0 124.7 89.2 124.9 87.4C125.1 85.6 126.2 83.3 126.9 81.5C127.6 79.7 128.2 78.1 128.9 76.5C129.6 74.9 130.2 73.6 131.0 72.0C131.8 70.4 133.2 68.8 134.0 67.0C134.8 65.2 135.4 63.0 136.0 61.0C136.6 59.0 136.6 56.6 137.5 55.0Z"/><path d="M116.0 99.0C117.0 97.3 118.8 98.2 119.0 100.0C119.2 101.8 117.9 106.4 117.0 110.0C116.1 113.6 114.6 119.7 113.5 121.5C112.4 123.3 110.6 122.9 110.5 121.0C110.4 119.1 112.1 113.7 113.0 110.0C113.9 106.3 115.0 100.7 116.0 99.0Z"/><path d="M83.0 144.8C83.2 143.5 83.2 143.1 84.4 142.6C85.6 142.1 88.7 141.7 90.4 141.9C92.1 142.2 93.6 142.9 94.8 144.1C96.0 145.3 96.6 148.6 97.8 149.3C99.0 150.0 100.2 148.9 102.2 148.5C104.2 148.1 107.1 147.4 109.6 147.0C112.1 146.6 114.5 146.4 117.0 146.3C119.5 146.2 121.9 146.4 124.4 146.6C126.9 146.8 129.7 147.2 131.9 147.5C134.1 147.8 136.0 148.2 137.8 148.5C139.6 148.8 141.6 150.1 142.5 149.0C143.4 147.9 143.2 144.5 143.0 142.0C142.8 139.5 141.3 136.1 141.0 134.0C140.7 131.9 140.4 130.2 141.0 129.5C141.6 128.8 143.4 128.8 144.5 129.5C145.6 130.2 146.7 131.4 147.5 134.0C148.3 136.6 149.0 141.8 149.6 144.8C150.2 147.8 150.3 150.2 151.1 152.2C151.8 154.2 153.1 155.0 154.1 156.7C155.1 158.4 156.4 160.6 157.0 162.6C157.6 164.6 158.3 167.2 157.8 168.5C157.3 169.8 155.7 170.3 154.1 170.7C152.5 171.1 150.1 171.1 148.1 170.7C146.1 170.3 144.2 169.2 142.2 168.5C140.2 167.8 138.3 166.9 136.3 166.3C134.3 165.7 132.9 165.2 130.4 164.8C127.9 164.4 124.5 164.2 121.5 164.1C118.5 164.0 115.1 164.0 112.6 164.1C110.1 164.2 108.7 164.6 106.7 164.8C104.7 165.1 102.7 165.6 100.7 165.6C98.7 165.6 96.8 165.6 94.8 164.8C92.8 164.1 90.6 162.4 88.9 161.1C87.2 159.8 85.4 158.4 84.4 156.7C83.4 155.0 83.2 152.7 83.0 150.7C82.8 148.7 82.8 146.2 83.0 144.8Z"/><path d="M95.0 196.4C95.8 195.2 97.5 194.4 99.3 194.2C101.1 194.0 103.8 194.6 105.7 195.3C107.7 196.0 109.4 197.4 111.0 198.5C112.6 199.6 113.3 201.2 115.3 201.7C117.3 202.2 120.1 201.9 122.8 201.7C125.5 201.5 128.8 201.1 131.3 200.6C133.8 200.1 135.8 199.4 137.8 198.5C139.8 197.6 141.9 196.4 143.1 195.3C144.3 194.2 144.3 192.6 145.2 192.1C146.1 191.6 147.3 191.6 148.4 192.1C149.5 192.6 151.0 193.5 151.7 195.3C152.4 197.1 152.7 200.1 152.7 202.8C152.7 205.5 152.6 209.0 151.7 211.3C150.8 213.6 149.4 215.4 147.4 216.7C145.4 217.9 142.6 218.3 139.9 218.8C137.2 219.3 134.2 219.5 131.3 219.5C128.5 219.5 125.7 219.2 122.8 218.8C119.9 218.4 117.0 217.8 114.2 217.3C111.4 216.8 108.2 216.4 105.7 215.6C103.2 214.8 100.9 213.8 99.3 212.4C97.7 211.0 96.8 208.9 96.0 207.1C95.2 205.3 94.7 203.5 94.5 201.7C94.3 199.9 94.2 197.7 95.0 196.4Z"/><path d="M90.4 232.8C91.5 232.2 93.6 233.0 95.6 234.1C97.5 235.2 99.5 238.0 102.1 239.3C104.7 240.6 108.0 241.2 111.2 241.9C114.5 242.6 118.1 243.0 121.6 243.2C125.1 243.4 129.0 243.6 132.0 243.2C135.0 242.8 137.2 242.1 139.8 240.6C142.4 239.1 145.4 235.4 147.6 234.1C149.8 232.8 151.3 232.2 152.8 232.8C154.3 233.5 156.0 236.1 156.7 238.0C157.3 239.9 157.3 242.3 156.7 244.5C156.0 246.7 154.8 249.1 152.8 251.0C150.9 252.9 148.0 254.9 145.0 256.2C142.0 257.5 137.8 258.1 134.6 258.8C131.3 259.5 129.0 259.9 125.5 260.1C122.0 260.3 117.5 260.5 113.8 260.1C110.1 259.7 106.4 258.6 103.4 257.5C100.4 256.4 97.8 255.1 95.6 253.6C93.4 252.1 91.5 251.0 90.4 248.4C89.3 245.8 89.1 240.6 89.1 238.0C89.1 235.4 89.3 233.5 90.4 232.8Z"/><path d="M95.6 267.9C96.7 266.2 100.4 266.3 103.4 266.6C106.4 266.9 111.2 268.8 113.8 269.7C116.4 270.6 117.0 271.1 119.0 271.8C121.0 272.5 123.3 273.2 125.5 273.6C127.7 274.0 129.4 274.8 132.0 274.4C134.6 274.0 138.3 272.6 141.1 271.3C143.9 270.0 147.2 267.2 148.9 266.6C150.6 266.0 150.8 266.2 151.5 267.9C152.2 269.6 152.8 273.8 152.8 277.0C152.8 280.2 152.2 284.6 151.5 287.4C150.8 290.2 150.4 291.9 148.9 293.9C147.4 295.8 145.2 297.8 142.4 299.1C139.6 300.4 135.9 301.3 132.0 301.7C128.1 302.1 122.9 302.1 119.0 301.7C115.1 301.3 111.6 300.4 108.6 299.1C105.6 297.8 102.5 296.1 100.8 293.9C99.1 291.7 98.8 288.9 98.2 286.1C97.6 283.3 97.3 280.0 96.9 277.0C96.5 274.0 94.5 269.6 95.6 267.9Z"/></g><g clip-path="url(#yc)"><g fill="none" stroke="#9cb00c" stroke-width="2.2" opacity="0.55" filter="url(#bl1)"><path d="M84.0 13.5C84.3 12.4 85.1 11.0 86.5 10.2C87.9 9.4 90.8 8.8 92.5 8.8C94.2 8.8 95.7 9.1 97.0 10.0C98.3 10.9 99.5 12.6 100.5 14.0C101.5 15.4 102.4 16.9 103.0 18.5C103.6 20.1 104.1 22.0 104.0 23.5C103.9 25.0 103.3 26.8 102.5 27.5C101.7 28.2 100.0 28.2 99.0 27.5C98.0 26.8 97.4 24.8 96.8 23.5C96.2 22.2 96.0 20.5 95.5 19.5C95.0 18.5 94.4 17.8 93.5 17.5C92.6 17.2 91.2 17.5 90.0 17.5C88.8 17.5 87.4 17.7 86.5 17.5C85.6 17.3 84.9 17.2 84.5 16.5C84.1 15.8 83.7 14.6 84.0 13.5Z"/><path d="M113.6 11.0C114.6 10.6 117.6 11.0 118.4 11.6C119.2 12.2 118.8 13.2 118.6 14.3C118.4 15.5 117.9 16.9 117.4 18.5C116.9 20.1 116.3 21.7 115.4 23.8C114.5 25.9 113.0 29.0 111.8 31.2C110.6 33.4 109.5 35.0 108.3 36.8C107.0 38.5 105.6 40.3 104.3 41.7C103.0 43.1 101.6 44.3 100.2 45.2C98.8 46.1 97.3 46.9 95.9 47.3C94.5 47.7 93.3 48.0 92.0 47.8C90.7 47.6 89.3 47.0 88.3 45.9C87.3 44.8 86.5 42.9 86.2 41.4C85.9 39.9 86.0 38.2 86.2 36.8C86.4 35.3 86.8 33.9 87.6 32.7C88.4 31.5 90.0 30.0 91.1 29.7C92.1 29.4 93.3 30.2 93.9 30.8C94.5 31.4 94.6 32.5 94.5 33.5C94.4 34.5 93.4 35.8 93.1 36.8C92.8 37.8 92.3 39.0 92.5 39.8C92.7 40.6 93.5 41.3 94.2 41.5C95.0 41.7 96.0 41.4 97.0 40.9C98.0 40.4 98.9 39.5 100.1 38.4C101.2 37.3 102.7 36.0 103.9 34.4C105.1 32.8 106.1 30.7 107.1 28.8C108.1 26.9 109.1 24.6 109.8 22.9C110.5 21.1 110.7 19.8 111.1 18.3C111.5 16.8 112.0 15.1 112.4 13.9C112.8 12.7 112.6 11.4 113.6 11.0Z"/><path d="M129.0 16.3C128.8 15.2 130.0 12.9 130.8 11.7C131.6 10.5 132.8 9.2 133.6 9.0C134.4 8.8 135.2 9.7 135.4 10.8C135.6 11.9 135.1 14.2 134.5 15.4C133.9 16.6 132.6 18.0 131.7 18.1C130.8 18.2 129.2 17.4 129.0 16.3Z"/><path d="M139.0 11.7C139.6 10.9 141.7 10.1 143.5 9.9C145.3 9.7 148.3 10.2 149.8 10.5C151.3 10.8 152.3 11.0 152.5 11.7C152.7 12.4 151.6 13.7 150.7 14.5C149.8 15.3 148.0 15.7 147.1 16.3C146.2 16.9 146.1 18.1 145.3 18.1C144.6 18.1 143.5 16.9 142.6 16.3C141.7 15.7 140.5 15.3 139.9 14.5C139.3 13.7 138.4 12.5 139.0 11.7Z"/><path d="M143.5 37.0C144.0 36.2 145.8 35.3 147.0 35.2C148.2 35.1 150.3 35.7 150.7 36.5C151.1 37.3 150.3 39.1 149.5 40.0C148.7 40.9 146.9 41.6 146.0 41.6C145.1 41.6 144.2 40.8 143.8 40.0C143.4 39.2 143.0 37.8 143.5 37.0Z"/><path d="M74.9 71.6C75.0 68.8 75.6 67.3 76.2 65.0C76.9 62.7 77.3 59.9 78.8 58.0C80.2 56.1 82.3 55.2 85.0 53.8C87.7 52.3 91.7 50.4 95.0 49.5C98.3 48.6 103.0 48.1 105.0 48.2C107.0 48.4 107.0 49.8 107.2 50.5C107.4 51.2 107.2 51.5 106.0 52.2C104.8 52.9 101.9 53.8 100.0 54.5C98.1 55.2 96.2 55.6 94.5 56.6C92.8 57.6 90.9 59.0 89.5 60.5C88.1 62.0 86.5 64.0 86.3 65.5C86.0 67.0 87.0 68.4 88.0 69.2C89.0 70.0 90.8 70.3 92.5 70.2C94.2 70.1 96.2 69.6 98.5 68.6C100.8 67.6 104.2 65.4 106.5 64.2C108.8 63.0 110.4 62.1 112.4 61.4C114.4 60.7 116.4 59.9 118.4 59.8C120.4 59.7 122.5 60.3 124.3 60.8C126.1 61.3 127.7 61.8 129.2 62.7C130.7 63.6 132.4 64.9 133.5 66.0C134.6 67.1 135.7 68.4 135.5 69.5C135.3 70.6 133.6 71.8 132.5 72.5C131.4 73.2 130.6 73.2 129.2 73.6C127.8 73.9 125.8 74.1 124.3 74.6C122.8 75.1 121.4 75.7 120.3 76.5C119.2 77.3 118.6 78.2 117.4 79.5C116.2 80.8 115.1 82.4 113.4 84.4C111.8 86.4 109.3 89.5 107.5 91.3C105.7 93.1 104.2 94.5 102.6 95.3C100.9 96.1 99.8 96.6 97.6 96.3C95.4 96.0 91.8 94.1 89.7 93.3C87.6 92.5 86.4 92.3 84.8 91.3C83.2 90.3 81.4 89.0 79.9 87.4C78.4 85.8 76.7 84.1 75.9 81.5C75.1 78.9 74.8 74.3 74.9 71.6Z"/><path d="M137.5 55.0C138.4 53.4 140.2 52.2 141.7 51.5C143.2 50.8 144.9 50.5 146.5 50.6C148.1 50.7 150.1 51.0 151.5 52.0C152.9 53.0 153.8 55.6 155.0 56.5C156.2 57.4 157.8 57.8 159.0 57.5C160.2 57.2 161.0 54.9 162.0 54.5C163.0 54.1 164.2 54.3 165.0 55.0C165.8 55.7 166.8 57.0 167.0 58.5C167.2 60.0 166.9 62.3 166.5 64.0C166.1 65.7 165.3 67.0 164.4 68.5C163.5 70.0 161.7 71.4 161.0 73.0C160.3 74.6 160.2 76.5 160.4 78.0C160.6 79.5 161.8 80.3 162.4 82.0C163.0 83.7 163.9 86.0 163.8 88.0C163.7 90.0 162.9 92.4 162.0 94.0C161.1 95.6 160.1 96.6 158.5 97.5C156.9 98.4 154.7 99.4 152.5 99.6C150.3 99.8 148.1 99.1 145.6 98.8C143.1 98.5 140.3 98.1 137.7 97.6C135.1 97.0 131.8 96.4 129.8 95.5C127.8 94.6 126.7 93.6 125.9 92.3C125.1 91.0 124.7 89.2 124.9 87.4C125.1 85.6 126.2 83.3 126.9 81.5C127.6 79.7 128.2 78.1 128.9 76.5C129.6 74.9 130.2 73.6 131.0 72.0C131.8 70.4 133.2 68.8 134.0 67.0C134.8 65.2 135.4 63.0 136.0 61.0C136.6 59.0 136.6 56.6 137.5 55.0Z"/><path d="M116.0 99.0C117.0 97.3 118.8 98.2 119.0 100.0C119.2 101.8 117.9 106.4 117.0 110.0C116.1 113.6 114.6 119.7 113.5 121.5C112.4 123.3 110.6 122.9 110.5 121.0C110.4 119.1 112.1 113.7 113.0 110.0C113.9 106.3 115.0 100.7 116.0 99.0Z"/><path d="M83.0 144.8C83.2 143.5 83.2 143.1 84.4 142.6C85.6 142.1 88.7 141.7 90.4 141.9C92.1 142.2 93.6 142.9 94.8 144.1C96.0 145.3 96.6 148.6 97.8 149.3C99.0 150.0 100.2 148.9 102.2 148.5C104.2 148.1 107.1 147.4 109.6 147.0C112.1 146.6 114.5 146.4 117.0 146.3C119.5 146.2 121.9 146.4 124.4 146.6C126.9 146.8 129.7 147.2 131.9 147.5C134.1 147.8 136.0 148.2 137.8 148.5C139.6 148.8 141.6 150.1 142.5 149.0C143.4 147.9 143.2 144.5 143.0 142.0C142.8 139.5 141.3 136.1 141.0 134.0C140.7 131.9 140.4 130.2 141.0 129.5C141.6 128.8 143.4 128.8 144.5 129.5C145.6 130.2 146.7 131.4 147.5 134.0C148.3 136.6 149.0 141.8 149.6 144.8C150.2 147.8 150.3 150.2 151.1 152.2C151.8 154.2 153.1 155.0 154.1 156.7C155.1 158.4 156.4 160.6 157.0 162.6C157.6 164.6 158.3 167.2 157.8 168.5C157.3 169.8 155.7 170.3 154.1 170.7C152.5 171.1 150.1 171.1 148.1 170.7C146.1 170.3 144.2 169.2 142.2 168.5C140.2 167.8 138.3 166.9 136.3 166.3C134.3 165.7 132.9 165.2 130.4 164.8C127.9 164.4 124.5 164.2 121.5 164.1C118.5 164.0 115.1 164.0 112.6 164.1C110.1 164.2 108.7 164.6 106.7 164.8C104.7 165.1 102.7 165.6 100.7 165.6C98.7 165.6 96.8 165.6 94.8 164.8C92.8 164.1 90.6 162.4 88.9 161.1C87.2 159.8 85.4 158.4 84.4 156.7C83.4 155.0 83.2 152.7 83.0 150.7C82.8 148.7 82.8 146.2 83.0 144.8Z"/><path d="M95.0 196.4C95.8 195.2 97.5 194.4 99.3 194.2C101.1 194.0 103.8 194.6 105.7 195.3C107.7 196.0 109.4 197.4 111.0 198.5C112.6 199.6 113.3 201.2 115.3 201.7C117.3 202.2 120.1 201.9 122.8 201.7C125.5 201.5 128.8 201.1 131.3 200.6C133.8 200.1 135.8 199.4 137.8 198.5C139.8 197.6 141.9 196.4 143.1 195.3C144.3 194.2 144.3 192.6 145.2 192.1C146.1 191.6 147.3 191.6 148.4 192.1C149.5 192.6 151.0 193.5 151.7 195.3C152.4 197.1 152.7 200.1 152.7 202.8C152.7 205.5 152.6 209.0 151.7 211.3C150.8 213.6 149.4 215.4 147.4 216.7C145.4 217.9 142.6 218.3 139.9 218.8C137.2 219.3 134.2 219.5 131.3 219.5C128.5 219.5 125.7 219.2 122.8 218.8C119.9 218.4 117.0 217.8 114.2 217.3C111.4 216.8 108.2 216.4 105.7 215.6C103.2 214.8 100.9 213.8 99.3 212.4C97.7 211.0 96.8 208.9 96.0 207.1C95.2 205.3 94.7 203.5 94.5 201.7C94.3 199.9 94.2 197.7 95.0 196.4Z"/><path d="M90.4 232.8C91.5 232.2 93.6 233.0 95.6 234.1C97.5 235.2 99.5 238.0 102.1 239.3C104.7 240.6 108.0 241.2 111.2 241.9C114.5 242.6 118.1 243.0 121.6 243.2C125.1 243.4 129.0 243.6 132.0 243.2C135.0 242.8 137.2 242.1 139.8 240.6C142.4 239.1 145.4 235.4 147.6 234.1C149.8 232.8 151.3 232.2 152.8 232.8C154.3 233.5 156.0 236.1 156.7 238.0C157.3 239.9 157.3 242.3 156.7 244.5C156.0 246.7 154.8 249.1 152.8 251.0C150.9 252.9 148.0 254.9 145.0 256.2C142.0 257.5 137.8 258.1 134.6 258.8C131.3 259.5 129.0 259.9 125.5 260.1C122.0 260.3 117.5 260.5 113.8 260.1C110.1 259.7 106.4 258.6 103.4 257.5C100.4 256.4 97.8 255.1 95.6 253.6C93.4 252.1 91.5 251.0 90.4 248.4C89.3 245.8 89.1 240.6 89.1 238.0C89.1 235.4 89.3 233.5 90.4 232.8Z"/><path d="M95.6 267.9C96.7 266.2 100.4 266.3 103.4 266.6C106.4 266.9 111.2 268.8 113.8 269.7C116.4 270.6 117.0 271.1 119.0 271.8C121.0 272.5 123.3 273.2 125.5 273.6C127.7 274.0 129.4 274.8 132.0 274.4C134.6 274.0 138.3 272.6 141.1 271.3C143.9 270.0 147.2 267.2 148.9 266.6C150.6 266.0 150.8 266.2 151.5 267.9C152.2 269.6 152.8 273.8 152.8 277.0C152.8 280.2 152.2 284.6 151.5 287.4C150.8 290.2 150.4 291.9 148.9 293.9C147.4 295.8 145.2 297.8 142.4 299.1C139.6 300.4 135.9 301.3 132.0 301.7C128.1 302.1 122.9 302.1 119.0 301.7C115.1 301.3 111.6 300.4 108.6 299.1C105.6 297.8 102.5 296.1 100.8 293.9C99.1 291.7 98.8 288.9 98.2 286.1C97.6 283.3 97.3 280.0 96.9 277.0C96.5 274.0 94.5 269.6 95.6 267.9Z"/></g></g><g fill="none" stroke="#98aa0a" stroke-width="0.5"><path d="M84.0 13.5C84.3 12.4 85.1 11.0 86.5 10.2C87.9 9.4 90.8 8.8 92.5 8.8C94.2 8.8 95.7 9.1 97.0 10.0C98.3 10.9 99.5 12.6 100.5 14.0C101.5 15.4 102.4 16.9 103.0 18.5C103.6 20.1 104.1 22.0 104.0 23.5C103.9 25.0 103.3 26.8 102.5 27.5C101.7 28.2 100.0 28.2 99.0 27.5C98.0 26.8 97.4 24.8 96.8 23.5C96.2 22.2 96.0 20.5 95.5 19.5C95.0 18.5 94.4 17.8 93.5 17.5C92.6 17.2 91.2 17.5 90.0 17.5C88.8 17.5 87.4 17.7 86.5 17.5C85.6 17.3 84.9 17.2 84.5 16.5C84.1 15.8 83.7 14.6 84.0 13.5Z"/><path d="M113.6 11.0C114.6 10.6 117.6 11.0 118.4 11.6C119.2 12.2 118.8 13.2 118.6 14.3C118.4 15.5 117.9 16.9 117.4 18.5C116.9 20.1 116.3 21.7 115.4 23.8C114.5 25.9 113.0 29.0 111.8 31.2C110.6 33.4 109.5 35.0 108.3 36.8C107.0 38.5 105.6 40.3 104.3 41.7C103.0 43.1 101.6 44.3 100.2 45.2C98.8 46.1 97.3 46.9 95.9 47.3C94.5 47.7 93.3 48.0 92.0 47.8C90.7 47.6 89.3 47.0 88.3 45.9C87.3 44.8 86.5 42.9 86.2 41.4C85.9 39.9 86.0 38.2 86.2 36.8C86.4 35.3 86.8 33.9 87.6 32.7C88.4 31.5 90.0 30.0 91.1 29.7C92.1 29.4 93.3 30.2 93.9 30.8C94.5 31.4 94.6 32.5 94.5 33.5C94.4 34.5 93.4 35.8 93.1 36.8C92.8 37.8 92.3 39.0 92.5 39.8C92.7 40.6 93.5 41.3 94.2 41.5C95.0 41.7 96.0 41.4 97.0 40.9C98.0 40.4 98.9 39.5 100.1 38.4C101.2 37.3 102.7 36.0 103.9 34.4C105.1 32.8 106.1 30.7 107.1 28.8C108.1 26.9 109.1 24.6 109.8 22.9C110.5 21.1 110.7 19.8 111.1 18.3C111.5 16.8 112.0 15.1 112.4 13.9C112.8 12.7 112.6 11.4 113.6 11.0Z"/><path d="M129.0 16.3C128.8 15.2 130.0 12.9 130.8 11.7C131.6 10.5 132.8 9.2 133.6 9.0C134.4 8.8 135.2 9.7 135.4 10.8C135.6 11.9 135.1 14.2 134.5 15.4C133.9 16.6 132.6 18.0 131.7 18.1C130.8 18.2 129.2 17.4 129.0 16.3Z"/><path d="M139.0 11.7C139.6 10.9 141.7 10.1 143.5 9.9C145.3 9.7 148.3 10.2 149.8 10.5C151.3 10.8 152.3 11.0 152.5 11.7C152.7 12.4 151.6 13.7 150.7 14.5C149.8 15.3 148.0 15.7 147.1 16.3C146.2 16.9 146.1 18.1 145.3 18.1C144.6 18.1 143.5 16.9 142.6 16.3C141.7 15.7 140.5 15.3 139.9 14.5C139.3 13.7 138.4 12.5 139.0 11.7Z"/><path d="M143.5 37.0C144.0 36.2 145.8 35.3 147.0 35.2C148.2 35.1 150.3 35.7 150.7 36.5C151.1 37.3 150.3 39.1 149.5 40.0C148.7 40.9 146.9 41.6 146.0 41.6C145.1 41.6 144.2 40.8 143.8 40.0C143.4 39.2 143.0 37.8 143.5 37.0Z"/><path d="M74.9 71.6C75.0 68.8 75.6 67.3 76.2 65.0C76.9 62.7 77.3 59.9 78.8 58.0C80.2 56.1 82.3 55.2 85.0 53.8C87.7 52.3 91.7 50.4 95.0 49.5C98.3 48.6 103.0 48.1 105.0 48.2C107.0 48.4 107.0 49.8 107.2 50.5C107.4 51.2 107.2 51.5 106.0 52.2C104.8 52.9 101.9 53.8 100.0 54.5C98.1 55.2 96.2 55.6 94.5 56.6C92.8 57.6 90.9 59.0 89.5 60.5C88.1 62.0 86.5 64.0 86.3 65.5C86.0 67.0 87.0 68.4 88.0 69.2C89.0 70.0 90.8 70.3 92.5 70.2C94.2 70.1 96.2 69.6 98.5 68.6C100.8 67.6 104.2 65.4 106.5 64.2C108.8 63.0 110.4 62.1 112.4 61.4C114.4 60.7 116.4 59.9 118.4 59.8C120.4 59.7 122.5 60.3 124.3 60.8C126.1 61.3 127.7 61.8 129.2 62.7C130.7 63.6 132.4 64.9 133.5 66.0C134.6 67.1 135.7 68.4 135.5 69.5C135.3 70.6 133.6 71.8 132.5 72.5C131.4 73.2 130.6 73.2 129.2 73.6C127.8 73.9 125.8 74.1 124.3 74.6C122.8 75.1 121.4 75.7 120.3 76.5C119.2 77.3 118.6 78.2 117.4 79.5C116.2 80.8 115.1 82.4 113.4 84.4C111.8 86.4 109.3 89.5 107.5 91.3C105.7 93.1 104.2 94.5 102.6 95.3C100.9 96.1 99.8 96.6 97.6 96.3C95.4 96.0 91.8 94.1 89.7 93.3C87.6 92.5 86.4 92.3 84.8 91.3C83.2 90.3 81.4 89.0 79.9 87.4C78.4 85.8 76.7 84.1 75.9 81.5C75.1 78.9 74.8 74.3 74.9 71.6Z"/><path d="M137.5 55.0C138.4 53.4 140.2 52.2 141.7 51.5C143.2 50.8 144.9 50.5 146.5 50.6C148.1 50.7 150.1 51.0 151.5 52.0C152.9 53.0 153.8 55.6 155.0 56.5C156.2 57.4 157.8 57.8 159.0 57.5C160.2 57.2 161.0 54.9 162.0 54.5C163.0 54.1 164.2 54.3 165.0 55.0C165.8 55.7 166.8 57.0 167.0 58.5C167.2 60.0 166.9 62.3 166.5 64.0C166.1 65.7 165.3 67.0 164.4 68.5C163.5 70.0 161.7 71.4 161.0 73.0C160.3 74.6 160.2 76.5 160.4 78.0C160.6 79.5 161.8 80.3 162.4 82.0C163.0 83.7 163.9 86.0 163.8 88.0C163.7 90.0 162.9 92.4 162.0 94.0C161.1 95.6 160.1 96.6 158.5 97.5C156.9 98.4 154.7 99.4 152.5 99.6C150.3 99.8 148.1 99.1 145.6 98.8C143.1 98.5 140.3 98.1 137.7 97.6C135.1 97.0 131.8 96.4 129.8 95.5C127.8 94.6 126.7 93.6 125.9 92.3C125.1 91.0 124.7 89.2 124.9 87.4C125.1 85.6 126.2 83.3 126.9 81.5C127.6 79.7 128.2 78.1 128.9 76.5C129.6 74.9 130.2 73.6 131.0 72.0C131.8 70.4 133.2 68.8 134.0 67.0C134.8 65.2 135.4 63.0 136.0 61.0C136.6 59.0 136.6 56.6 137.5 55.0Z"/><path d="M116.0 99.0C117.0 97.3 118.8 98.2 119.0 100.0C119.2 101.8 117.9 106.4 117.0 110.0C116.1 113.6 114.6 119.7 113.5 121.5C112.4 123.3 110.6 122.9 110.5 121.0C110.4 119.1 112.1 113.7 113.0 110.0C113.9 106.3 115.0 100.7 116.0 99.0Z"/><path d="M83.0 144.8C83.2 143.5 83.2 143.1 84.4 142.6C85.6 142.1 88.7 141.7 90.4 141.9C92.1 142.2 93.6 142.9 94.8 144.1C96.0 145.3 96.6 148.6 97.8 149.3C99.0 150.0 100.2 148.9 102.2 148.5C104.2 148.1 107.1 147.4 109.6 147.0C112.1 146.6 114.5 146.4 117.0 146.3C119.5 146.2 121.9 146.4 124.4 146.6C126.9 146.8 129.7 147.2 131.9 147.5C134.1 147.8 136.0 148.2 137.8 148.5C139.6 148.8 141.6 150.1 142.5 149.0C143.4 147.9 143.2 144.5 143.0 142.0C142.8 139.5 141.3 136.1 141.0 134.0C140.7 131.9 140.4 130.2 141.0 129.5C141.6 128.8 143.4 128.8 144.5 129.5C145.6 130.2 146.7 131.4 147.5 134.0C148.3 136.6 149.0 141.8 149.6 144.8C150.2 147.8 150.3 150.2 151.1 152.2C151.8 154.2 153.1 155.0 154.1 156.7C155.1 158.4 156.4 160.6 157.0 162.6C157.6 164.6 158.3 167.2 157.8 168.5C157.3 169.8 155.7 170.3 154.1 170.7C152.5 171.1 150.1 171.1 148.1 170.7C146.1 170.3 144.2 169.2 142.2 168.5C140.2 167.8 138.3 166.9 136.3 166.3C134.3 165.7 132.9 165.2 130.4 164.8C127.9 164.4 124.5 164.2 121.5 164.1C118.5 164.0 115.1 164.0 112.6 164.1C110.1 164.2 108.7 164.6 106.7 164.8C104.7 165.1 102.7 165.6 100.7 165.6C98.7 165.6 96.8 165.6 94.8 164.8C92.8 164.1 90.6 162.4 88.9 161.1C87.2 159.8 85.4 158.4 84.4 156.7C83.4 155.0 83.2 152.7 83.0 150.7C82.8 148.7 82.8 146.2 83.0 144.8Z"/><path d="M95.0 196.4C95.8 195.2 97.5 194.4 99.3 194.2C101.1 194.0 103.8 194.6 105.7 195.3C107.7 196.0 109.4 197.4 111.0 198.5C112.6 199.6 113.3 201.2 115.3 201.7C117.3 202.2 120.1 201.9 122.8 201.7C125.5 201.5 128.8 201.1 131.3 200.6C133.8 200.1 135.8 199.4 137.8 198.5C139.8 197.6 141.9 196.4 143.1 195.3C144.3 194.2 144.3 192.6 145.2 192.1C146.1 191.6 147.3 191.6 148.4 192.1C149.5 192.6 151.0 193.5 151.7 195.3C152.4 197.1 152.7 200.1 152.7 202.8C152.7 205.5 152.6 209.0 151.7 211.3C150.8 213.6 149.4 215.4 147.4 216.7C145.4 217.9 142.6 218.3 139.9 218.8C137.2 219.3 134.2 219.5 131.3 219.5C128.5 219.5 125.7 219.2 122.8 218.8C119.9 218.4 117.0 217.8 114.2 217.3C111.4 216.8 108.2 216.4 105.7 215.6C103.2 214.8 100.9 213.8 99.3 212.4C97.7 211.0 96.8 208.9 96.0 207.1C95.2 205.3 94.7 203.5 94.5 201.7C94.3 199.9 94.2 197.7 95.0 196.4Z"/><path d="M90.4 232.8C91.5 232.2 93.6 233.0 95.6 234.1C97.5 235.2 99.5 238.0 102.1 239.3C104.7 240.6 108.0 241.2 111.2 241.9C114.5 242.6 118.1 243.0 121.6 243.2C125.1 243.4 129.0 243.6 132.0 243.2C135.0 242.8 137.2 242.1 139.8 240.6C142.4 239.1 145.4 235.4 147.6 234.1C149.8 232.8 151.3 232.2 152.8 232.8C154.3 233.5 156.0 236.1 156.7 238.0C157.3 239.9 157.3 242.3 156.7 244.5C156.0 246.7 154.8 249.1 152.8 251.0C150.9 252.9 148.0 254.9 145.0 256.2C142.0 257.5 137.8 258.1 134.6 258.8C131.3 259.5 129.0 259.9 125.5 260.1C122.0 260.3 117.5 260.5 113.8 260.1C110.1 259.7 106.4 258.6 103.4 257.5C100.4 256.4 97.8 255.1 95.6 253.6C93.4 252.1 91.5 251.0 90.4 248.4C89.3 245.8 89.1 240.6 89.1 238.0C89.1 235.4 89.3 233.5 90.4 232.8Z"/><path d="M95.6 267.9C96.7 266.2 100.4 266.3 103.4 266.6C106.4 266.9 111.2 268.8 113.8 269.7C116.4 270.6 117.0 271.1 119.0 271.8C121.0 272.5 123.3 273.2 125.5 273.6C127.7 274.0 129.4 274.8 132.0 274.4C134.6 274.0 138.3 272.6 141.1 271.3C143.9 270.0 147.2 267.2 148.9 266.6C150.6 266.0 150.8 266.2 151.5 267.9C152.2 269.6 152.8 273.8 152.8 277.0C152.8 280.2 152.2 284.6 151.5 287.4C150.8 290.2 150.4 291.9 148.9 293.9C147.4 295.8 145.2 297.8 142.4 299.1C139.6 300.4 135.9 301.3 132.0 301.7C128.1 302.1 122.9 302.1 119.0 301.7C115.1 301.3 111.6 300.4 108.6 299.1C105.6 297.8 102.5 296.1 100.8 293.9C99.1 291.7 98.8 288.9 98.2 286.1C97.6 283.3 97.3 280.0 96.9 277.0C96.5 274.0 94.5 269.6 95.6 267.9Z"/></g><g fill="none" stroke="#8a9c08" stroke-width="1.6" opacity="0.6" stroke-linecap="round" filter="url(#bl1)"><path d="M138 58 C135.5 66 134.5 72 136.5 78 C138 83 140.5 85 141.5 81"/><path d="M124 61.5 C128 65 131 70 129.5 74"/><path d="M100 160 C110 157 125 157 140 160"/><path d="M104 210 C115 208 130 208 145 210"/><path d="M100 249 C112 252 128 252 148 248"/><path d="M102 286 C115 290 130 290 146 286"/></g><g stroke="#222" stroke-width="1.3" fill="none"><line x1="40.4" y1="14.8" x2="61.5" y2="14.8"/><line x1="40.4" y1="14.8" x2="40.4" y2="34"/><line x1="40.4" y1="14.8" x2="45.3" y2="9.9"/><polyline points="40.4,20.3 47.3,20.3 47.3,14.8" stroke-width="0.9"/></g></svg>

<svg width="567" height="304" style="position:absolute;left:0;top:0">
<defs><clipPath id="ci"><path d="M450.8 138.4 L451.0 141.9 L451.1 145.4 L450.9 148.9 L450.6 152.5 L450.1 156.0 L449.3 159.5 L448.4 163.0 L447.1 166.3 L445.7 169.6 L444.1 172.8 L442.3 176.0 L440.3 179.0 L438.2 182.0 L436.0 184.8 L433.5 187.5 L430.7 189.8 L427.7 191.9 L424.7 193.8 L421.5 195.5 L418.0 196.7 L414.6 197.6 L411.1 198.4 L407.6 198.9 L404.4 199.9 L401.1 200.7 L397.8 201.5 L394.6 202.7 L391.3 203.8 L387.9 204.7 L384.4 205.4 L380.9 204.8 L377.5 204.1 L374.2 203.1 L370.9 201.9 L367.7 200.6 L364.5 199.5 L361.4 198.3 L358.4 196.9 L355.2 195.6 L352.2 194.3 L349.1 192.7 L345.9 191.4 L342.7 189.9 L339.6 188.1 L336.7 186.1 L333.8 183.9 L331.1 181.6 L328.5 179.0 L326.0 176.3 L323.8 173.4 L322.0 170.2 L320.5 166.9 L319.0 163.5 L317.8 160.0 L316.8 156.5 L316.0 152.9 L315.5 149.3 L315.1 145.7 L314.9 142.0 L314.9 138.4 L314.9 134.8 L315.1 131.1 L315.5 127.5 L316.1 123.9 L316.9 120.3 L317.9 116.8 L319.0 113.3 L320.5 109.9 L322.0 106.6 L323.8 103.4 L325.7 100.3 L327.8 97.3 L330.0 94.3 L332.4 91.6 L334.9 88.9 L337.6 86.4 L340.3 84.0 L343.3 81.8 L346.3 79.7 L349.4 77.8 L352.6 76.0 L355.9 74.5 L359.3 73.0 L362.8 71.8 L366.3 70.8 L369.8 69.9 L373.4 69.3 L377.1 68.8 L380.7 68.5 L384.4 68.4 L388.1 68.4 L391.7 68.7 L395.4 69.1 L399.0 69.7 L402.6 70.5 L406.1 71.5 L409.6 72.7 L413.0 74.1 L416.4 75.6 L419.6 77.3 L422.8 79.3 L425.8 81.4 L428.7 83.7 L431.4 86.2 L434.1 88.7 L436.6 91.4 L438.9 94.3 L441.1 97.2 L443.1 100.2 L445.0 103.4 L446.4 106.8 L447.7 110.2 L448.7 113.7 L449.5 117.2 L450.2 120.8 L450.7 124.3 L451.0 127.9 L451.1 131.4 L451.0 134.9Z"/></clipPath></defs>
<g stroke="#dadada" stroke-width="0.9" stroke-dasharray="1 1.2">
<line x1="316" y1="11" x2="316" y2="269"/><line x1="381" y1="11" x2="381" y2="269"/><line x1="447" y1="11" x2="447" y2="269"/>
<line x1="251" y1="46" x2="511" y2="46"/><line x1="251" y1="112" x2="511" y2="112"/><line x1="251" y1="178" x2="511" y2="178"/><line x1="251" y1="244" x2="511" y2="244"/>
</g>
<path d="M355.86 29.85H417.21V36.23H355.86ZM337.45 35.98H429.48V42.37H337.45ZM325.18 42.12H441.75V48.51H325.18ZM319.05 48.26H447.88V54.64H319.05ZM312.91 54.39H460.15V60.77H312.91ZM306.78 60.52H466.29V66.91H306.78ZM300.64 66.66H472.42V73.05H300.64ZM294.50 72.80H472.42V79.18H294.50ZM288.37 78.93H478.56V85.31H288.37ZM288.37 85.06H484.69V91.45H288.37ZM282.24 91.20H484.69V97.59H282.24ZM282.24 97.34H484.69V103.72H282.24ZM282.24 103.47H490.83V109.85H282.24ZM276.10 109.60H490.83V115.99H276.10ZM276.10 115.74H490.83V122.12H276.10ZM276.10 121.88H496.96V128.26H276.10ZM276.10 128.01H496.96V134.40H276.10ZM276.10 134.15H496.96V140.53H276.10ZM276.10 140.28H496.96V146.66H276.10ZM276.10 146.41H496.96V152.80H276.10ZM276.10 152.55H490.83V158.94H276.10ZM276.10 158.69H490.83V165.07H276.10ZM276.10 164.82H490.83V171.20H276.10ZM282.24 170.95H490.83V177.34H282.24ZM282.24 177.09H484.69V183.47H282.24ZM288.37 183.22H484.69V189.61H288.37ZM288.37 189.36H478.56V195.74H288.37ZM294.50 195.49H478.56V201.88H294.50ZM300.64 201.63H472.42V208.01H300.64ZM306.78 207.76H466.29V214.15H306.78ZM312.91 213.90H460.15V220.28H312.91ZM319.05 220.03H454.01V226.42H319.05ZM325.18 226.17H447.88V232.55H325.18ZM331.31 232.30H435.61V238.69H331.31ZM349.72 238.44H423.34V244.82H349.72ZM368.12 244.57H398.80V250.96H368.12Z" fill="#0000ff"/>
<path d="M388 69.5 C394 67.2 402 67.4 408 69.2 C413 70.6 416.5 72.5 418.5 76.5 L414 76 C409 73.5 400 71.5 388 70.5Z" fill="#00a8ff"/>
<g clip-path="url(#ci)"><path d="M378.5 89.2C381.7 88.9 385.0 88.8 388.2 89.0C391.4 89.2 395.0 89.6 397.9 90.5C400.8 91.4 403.4 93.0 405.7 94.5C408.0 96.0 409.6 97.8 411.5 99.6C413.4 101.4 415.4 103.4 417.3 105.6C419.2 107.8 421.5 110.3 423.1 112.5C424.7 114.7 425.7 116.4 427.0 118.5C428.3 120.6 429.8 122.8 430.8 125.0C431.8 127.2 432.4 129.3 432.8 131.6C433.2 133.9 433.2 136.6 433.0 139.0C432.8 141.4 432.2 143.8 431.5 146.0C430.8 148.2 429.8 150.4 428.8 152.5C427.9 154.6 426.7 156.5 425.8 158.5C424.9 160.5 424.0 162.7 423.2 164.5C422.4 166.3 421.9 167.8 421.0 169.5C420.1 171.2 419.5 173.3 417.8 174.8C416.1 176.3 413.6 177.5 411.0 178.6C408.4 179.7 405.5 180.5 402.5 181.2C399.5 181.9 396.3 182.3 393.2 182.6C390.1 182.9 387.1 183.2 384.1 183.2C381.1 183.2 378.2 183.1 375.3 182.4C372.4 181.7 369.4 180.2 366.5 179.0C363.6 177.8 360.1 176.1 357.6 175.0C355.1 173.9 353.5 173.6 351.5 172.5C349.5 171.4 347.6 170.2 345.6 168.2C343.6 166.2 341.3 162.9 339.7 160.3C338.1 157.7 336.8 155.0 335.8 152.4C334.8 149.8 334.1 147.2 333.6 144.6C333.1 142.0 332.7 139.0 332.6 136.7C332.5 134.4 332.7 133.1 333.2 130.8C333.7 128.5 334.6 125.5 335.6 122.9C336.7 120.3 338.2 117.2 339.5 115.0C340.8 112.8 342.2 111.3 343.5 109.5C344.8 107.7 345.9 106.0 347.5 104.2C349.1 102.4 351.1 100.1 353.3 98.4C355.6 96.7 358.4 95.3 361.0 94.0C363.6 92.7 365.9 91.6 368.8 90.8C371.7 90.0 375.3 89.5 378.5 89.2Z" fill="#00a8ff" stroke="#00a8ff" stroke-width="39.0" stroke-linejoin="round" transform="translate(0 1.8)"/><path d="M378.5 89.2C381.7 88.9 385.0 88.8 388.2 89.0C391.4 89.2 395.0 89.6 397.9 90.5C400.8 91.4 403.4 93.0 405.7 94.5C408.0 96.0 409.6 97.8 411.5 99.6C413.4 101.4 415.4 103.4 417.3 105.6C419.2 107.8 421.5 110.3 423.1 112.5C424.7 114.7 425.7 116.4 427.0 118.5C428.3 120.6 429.8 122.8 430.8 125.0C431.8 127.2 432.4 129.3 432.8 131.6C433.2 133.9 433.2 136.6 433.0 139.0C432.8 141.4 432.2 143.8 431.5 146.0C430.8 148.2 429.8 150.4 428.8 152.5C427.9 154.6 426.7 156.5 425.8 158.5C424.9 160.5 424.0 162.7 423.2 164.5C422.4 166.3 421.9 167.8 421.0 169.5C420.1 171.2 419.5 173.3 417.8 174.8C416.1 176.3 413.6 177.5 411.0 178.6C408.4 179.7 405.5 180.5 402.5 181.2C399.5 181.9 396.3 182.3 393.2 182.6C390.1 182.9 387.1 183.2 384.1 183.2C381.1 183.2 378.2 183.1 375.3 182.4C372.4 181.7 369.4 180.2 366.5 179.0C363.6 177.8 360.1 176.1 357.6 175.0C355.1 173.9 353.5 173.6 351.5 172.5C349.5 171.4 347.6 170.2 345.6 168.2C343.6 166.2 341.3 162.9 339.7 160.3C338.1 157.7 336.8 155.0 335.8 152.4C334.8 149.8 334.1 147.2 333.6 144.6C333.1 142.0 332.7 139.0 332.6 136.7C332.5 134.4 332.7 133.1 333.2 130.8C333.7 128.5 334.6 125.5 335.6 122.9C336.7 120.3 338.2 117.2 339.5 115.0C340.8 112.8 342.2 111.3 343.5 109.5C344.8 107.7 345.9 106.0 347.5 104.2C349.1 102.4 351.1 100.1 353.3 98.4C355.6 96.7 358.4 95.3 361.0 94.0C363.6 92.7 365.9 91.6 368.8 90.8C371.7 90.0 375.3 89.5 378.5 89.2Z" fill="#00f0c0" stroke="#00f0c0" stroke-width="32.6" stroke-linejoin="round" transform="translate(0 1.3)"/><path d="M378.5 89.2C381.7 88.9 385.0 88.8 388.2 89.0C391.4 89.2 395.0 89.6 397.9 90.5C400.8 91.4 403.4 93.0 405.7 94.5C408.0 96.0 409.6 97.8 411.5 99.6C413.4 101.4 415.4 103.4 417.3 105.6C419.2 107.8 421.5 110.3 423.1 112.5C424.7 114.7 425.7 116.4 427.0 118.5C428.3 120.6 429.8 122.8 430.8 125.0C431.8 127.2 432.4 129.3 432.8 131.6C433.2 133.9 433.2 136.6 433.0 139.0C432.8 141.4 432.2 143.8 431.5 146.0C430.8 148.2 429.8 150.4 428.8 152.5C427.9 154.6 426.7 156.5 425.8 158.5C424.9 160.5 424.0 162.7 423.2 164.5C422.4 166.3 421.9 167.8 421.0 169.5C420.1 171.2 419.5 173.3 417.8 174.8C416.1 176.3 413.6 177.5 411.0 178.6C408.4 179.7 405.5 180.5 402.5 181.2C399.5 181.9 396.3 182.3 393.2 182.6C390.1 182.9 387.1 183.2 384.1 183.2C381.1 183.2 378.2 183.1 375.3 182.4C372.4 181.7 369.4 180.2 366.5 179.0C363.6 177.8 360.1 176.1 357.6 175.0C355.1 173.9 353.5 173.6 351.5 172.5C349.5 171.4 347.6 170.2 345.6 168.2C343.6 166.2 341.3 162.9 339.7 160.3C338.1 157.7 336.8 155.0 335.8 152.4C334.8 149.8 334.1 147.2 333.6 144.6C333.1 142.0 332.7 139.0 332.6 136.7C332.5 134.4 332.7 133.1 333.2 130.8C333.7 128.5 334.6 125.5 335.6 122.9C336.7 120.3 338.2 117.2 339.5 115.0C340.8 112.8 342.2 111.3 343.5 109.5C344.8 107.7 345.9 106.0 347.5 104.2C349.1 102.4 351.1 100.1 353.3 98.4C355.6 96.7 358.4 95.3 361.0 94.0C363.6 92.7 365.9 91.6 368.8 90.8C371.7 90.0 375.3 89.5 378.5 89.2Z" fill="#00ff00" stroke="#00ff00" stroke-width="26.4" stroke-linejoin="round" transform="translate(0 0.8)"/><path d="M378.5 89.2C381.7 88.9 385.0 88.8 388.2 89.0C391.4 89.2 395.0 89.6 397.9 90.5C400.8 91.4 403.4 93.0 405.7 94.5C408.0 96.0 409.6 97.8 411.5 99.6C413.4 101.4 415.4 103.4 417.3 105.6C419.2 107.8 421.5 110.3 423.1 112.5C424.7 114.7 425.7 116.4 427.0 118.5C428.3 120.6 429.8 122.8 430.8 125.0C431.8 127.2 432.4 129.3 432.8 131.6C433.2 133.9 433.2 136.6 433.0 139.0C432.8 141.4 432.2 143.8 431.5 146.0C430.8 148.2 429.8 150.4 428.8 152.5C427.9 154.6 426.7 156.5 425.8 158.5C424.9 160.5 424.0 162.7 423.2 164.5C422.4 166.3 421.9 167.8 421.0 169.5C420.1 171.2 419.5 173.3 417.8 174.8C416.1 176.3 413.6 177.5 411.0 178.6C408.4 179.7 405.5 180.5 402.5 181.2C399.5 181.9 396.3 182.3 393.2 182.6C390.1 182.9 387.1 183.2 384.1 183.2C381.1 183.2 378.2 183.1 375.3 182.4C372.4 181.7 369.4 180.2 366.5 179.0C363.6 177.8 360.1 176.1 357.6 175.0C355.1 173.9 353.5 173.6 351.5 172.5C349.5 171.4 347.6 170.2 345.6 168.2C343.6 166.2 341.3 162.9 339.7 160.3C338.1 157.7 336.8 155.0 335.8 152.4C334.8 149.8 334.1 147.2 333.6 144.6C333.1 142.0 332.7 139.0 332.6 136.7C332.5 134.4 332.7 133.1 333.2 130.8C333.7 128.5 334.6 125.5 335.6 122.9C336.7 120.3 338.2 117.2 339.5 115.0C340.8 112.8 342.2 111.3 343.5 109.5C344.8 107.7 345.9 106.0 347.5 104.2C349.1 102.4 351.1 100.1 353.3 98.4C355.6 96.7 358.4 95.3 361.0 94.0C363.6 92.7 365.9 91.6 368.8 90.8C371.7 90.0 375.3 89.5 378.5 89.2Z" fill="#b4ff00" stroke="#b4ff00" stroke-width="18.8" stroke-linejoin="round" transform="translate(0 0.3)"/><path d="M378.5 89.2C381.7 88.9 385.0 88.8 388.2 89.0C391.4 89.2 395.0 89.6 397.9 90.5C400.8 91.4 403.4 93.0 405.7 94.5C408.0 96.0 409.6 97.8 411.5 99.6C413.4 101.4 415.4 103.4 417.3 105.6C419.2 107.8 421.5 110.3 423.1 112.5C424.7 114.7 425.7 116.4 427.0 118.5C428.3 120.6 429.8 122.8 430.8 125.0C431.8 127.2 432.4 129.3 432.8 131.6C433.2 133.9 433.2 136.6 433.0 139.0C432.8 141.4 432.2 143.8 431.5 146.0C430.8 148.2 429.8 150.4 428.8 152.5C427.9 154.6 426.7 156.5 425.8 158.5C424.9 160.5 424.0 162.7 423.2 164.5C422.4 166.3 421.9 167.8 421.0 169.5C420.1 171.2 419.5 173.3 417.8 174.8C416.1 176.3 413.6 177.5 411.0 178.6C408.4 179.7 405.5 180.5 402.5 181.2C399.5 181.9 396.3 182.3 393.2 182.6C390.1 182.9 387.1 183.2 384.1 183.2C381.1 183.2 378.2 183.1 375.3 182.4C372.4 181.7 369.4 180.2 366.5 179.0C363.6 177.8 360.1 176.1 357.6 175.0C355.1 173.9 353.5 173.6 351.5 172.5C349.5 171.4 347.6 170.2 345.6 168.2C343.6 166.2 341.3 162.9 339.7 160.3C338.1 157.7 336.8 155.0 335.8 152.4C334.8 149.8 334.1 147.2 333.6 144.6C333.1 142.0 332.7 139.0 332.6 136.7C332.5 134.4 332.7 133.1 333.2 130.8C333.7 128.5 334.6 125.5 335.6 122.9C336.7 120.3 338.2 117.2 339.5 115.0C340.8 112.8 342.2 111.3 343.5 109.5C344.8 107.7 345.9 106.0 347.5 104.2C349.1 102.4 351.1 100.1 353.3 98.4C355.6 96.7 358.4 95.3 361.0 94.0C363.6 92.7 365.9 91.6 368.8 90.8C371.7 90.0 375.3 89.5 378.5 89.2Z" fill="#ffa000" stroke="#ffa000" stroke-width="10.6" stroke-linejoin="round" transform="translate(0 0)"/><path d="M378.5 89.2C381.7 88.9 385.0 88.8 388.2 89.0C391.4 89.2 395.0 89.6 397.9 90.5C400.8 91.4 403.4 93.0 405.7 94.5C408.0 96.0 409.6 97.8 411.5 99.6C413.4 101.4 415.4 103.4 417.3 105.6C419.2 107.8 421.5 110.3 423.1 112.5C424.7 114.7 425.7 116.4 427.0 118.5C428.3 120.6 429.8 122.8 430.8 125.0C431.8 127.2 432.4 129.3 432.8 131.6C433.2 133.9 433.2 136.6 433.0 139.0C432.8 141.4 432.2 143.8 431.5 146.0C430.8 148.2 429.8 150.4 428.8 152.5C427.9 154.6 426.7 156.5 425.8 158.5C424.9 160.5 424.0 162.7 423.2 164.5C422.4 166.3 421.9 167.8 421.0 169.5C420.1 171.2 419.5 173.3 417.8 174.8C416.1 176.3 413.6 177.5 411.0 178.6C408.4 179.7 405.5 180.5 402.5 181.2C399.5 181.9 396.3 182.3 393.2 182.6C390.1 182.9 387.1 183.2 384.1 183.2C381.1 183.2 378.2 183.1 375.3 182.4C372.4 181.7 369.4 180.2 366.5 179.0C363.6 177.8 360.1 176.1 357.6 175.0C355.1 173.9 353.5 173.6 351.5 172.5C349.5 171.4 347.6 170.2 345.6 168.2C343.6 166.2 341.3 162.9 339.7 160.3C338.1 157.7 336.8 155.0 335.8 152.4C334.8 149.8 334.1 147.2 333.6 144.6C333.1 142.0 332.7 139.0 332.6 136.7C332.5 134.4 332.7 133.1 333.2 130.8C333.7 128.5 334.6 125.5 335.6 122.9C336.7 120.3 338.2 117.2 339.5 115.0C340.8 112.8 342.2 111.3 343.5 109.5C344.8 107.7 345.9 106.0 347.5 104.2C349.1 102.4 351.1 100.1 353.3 98.4C355.6 96.7 358.4 95.3 361.0 94.0C363.6 92.7 365.9 91.6 368.8 90.8C371.7 90.0 375.3 89.5 378.5 89.2Z" fill="#ff0000"/></g>
<circle cx="384.4" cy="138.4" r="69.3" fill="none" stroke="#000" stroke-width="2.3"/>
<circle cx="386.1" cy="139.45" r="112.8" fill="none" stroke="#000" stroke-width="2.8"/>
<rect x="249.7" y="10.5" width="262.2" height="259.35" fill="none" stroke="#111" stroke-width="1.6"/>
<g stroke="#111" stroke-width="1.6">
<line x1="315.3" y1="269" x2="315.3" y2="263.9"/><line x1="446.5" y1="269" x2="446.5" y2="263.9"/>
<line x1="250" y1="45.9" x2="255.6" y2="45.9"/><line x1="250" y1="177.7" x2="255.6" y2="177.7"/>
</g>
<!-- legend -->
<rect x="525" y="30" width="16" height="6.6" fill="#ff0000"/>
<rect x="525" y="36.6" width="16" height="12.7" fill="#ffa000"/>
<rect x="525" y="49.3" width="16" height="12.1" fill="#b4ff00"/>
<rect x="525" y="61.4" width="16" height="12.7" fill="#00ff00"/>
<rect x="525" y="74.1" width="16" height="12.5" fill="#00f0c0"/>
<rect x="525" y="86.6" width="16" height="12.5" fill="#00a8ff"/>
<rect x="525" y="99.1" width="16" height="11.9" fill="#0000ff"/>
<g stroke="#3a3a3a" stroke-width="0.7" stroke-dasharray="1 1" fill="none" opacity="0.6">
<rect x="525.3" y="30.3" width="15.4" height="80.4"/>
<line x1="525" y1="36.6" x2="541" y2="36.6"/><line x1="525" y1="49.3" x2="541" y2="49.3"/><line x1="525" y1="61.4" x2="541" y2="61.4"/>
<line x1="525" y1="74.1" x2="541" y2="74.1"/><line x1="525" y1="86.6" x2="541" y2="86.6"/><line x1="525" y1="99.1" x2="541" y2="99.1"/><line x1="525" y1="105" x2="541" y2="105"/>
</g>
</svg>
<div id="tx"><div class="t" style="left:309.2px;top:273.5px;font-size:11.5px;color:#000;">10</div><div class="t" style="left:440.2px;top:273.5px;font-size:11.5px;color:#000;">20</div><div class="t" style="left:232.2px;top:40.9px;font-size:11.5px;color:#000;">20</div><div class="t" style="left:232.2px;top:172.8px;font-size:11.5px;color:#000;">10</div><div class="t" style="left:359.5px;top:289.6px;font-size:13.4px;color:#000;">X [mm]</div><div class="t" style="left:197px;top:121px;font-size:12.9px;color:#000;transform:rotate(-90deg);transform-origin:center;">Z [mm]</div><div class="t" style="left:547.4px;top:31.699999999999996px;font-size:10.8px;color:#000;">8</div><div class="t" style="left:547.4px;top:43.9px;font-size:10.8px;color:#000;">7</div><div class="t" style="left:547.4px;top:56.4px;font-size:10.8px;color:#000;">6</div><div class="t" style="left:547.4px;top:69.9px;font-size:10.8px;color:#000;">5</div><div class="t" style="left:547.4px;top:82.5px;font-size:10.8px;color:#000;">4</div><div class="t" style="left:547.4px;top:94.9px;font-size:10.8px;color:#000;">3</div><div class="t" style="left:547.4px;top:104.7px;font-size:10.8px;color:#000;">0</div><div class="t" style="left:523.0px;top:9.3px;font-size:14.4px;color:#000;">V</div><div class="t" style="left:539.2px;top:11.0px;font-size:12.9px;color:#000;">[vox]</div><div class="t" style="left:317.5px;top:61.3px;font-size:30.6px;color:#fff;transform:scaleX(0.88);transform-origin:0 0;">V</div><div class="t" style="left:335.9px;top:61.2px;font-size:24.5px;color:#fff;">*</div><div class="t" style="left:365.8px;top:124.8px;font-size:30.4px;color:#000;transform:scaleX(0.91);transform-origin:0 0;">V</div><div class="t" style="left:383.6px;top:141.0px;font-size:21px;color:#000;">eff</div><div class="t" style="left:63.6px;top:11.6px;font-size:6.5px;color:#444;-webkit-text-stroke:0;">x</div><div class="t" style="left:44.3px;top:5.6px;font-size:6.2px;color:#444;-webkit-text-stroke:0;">Z</div><div class="t" style="left:38.7px;top:35.8px;font-size:6.2px;color:#444;-webkit-text-stroke:0;">Y</div><div class="t" style="left:13.6px;top:29.9px;font-size:12px;color:#000;">-20</div><div class="t" style="left:17.2px;top:100.7px;font-size:12px;color:#000;">-10</div><div class="t" style="left:30.8px;top:166.6px;font-size:10.8px;color:#000;">0</div><div class="t" style="left:27.4px;top:229.0px;font-size:11.5px;color:#000;">10</div><div class="t" style="left:29.9px;top:286.6px;font-size:10.8px;color:#000;">20</div><div class="t" style="left:-13.6px;top:157.6px;font-size:12.9px;color:#000;transform:rotate(-90deg);transform-origin:center;">Y [mm]</div></div>
</body></html>
